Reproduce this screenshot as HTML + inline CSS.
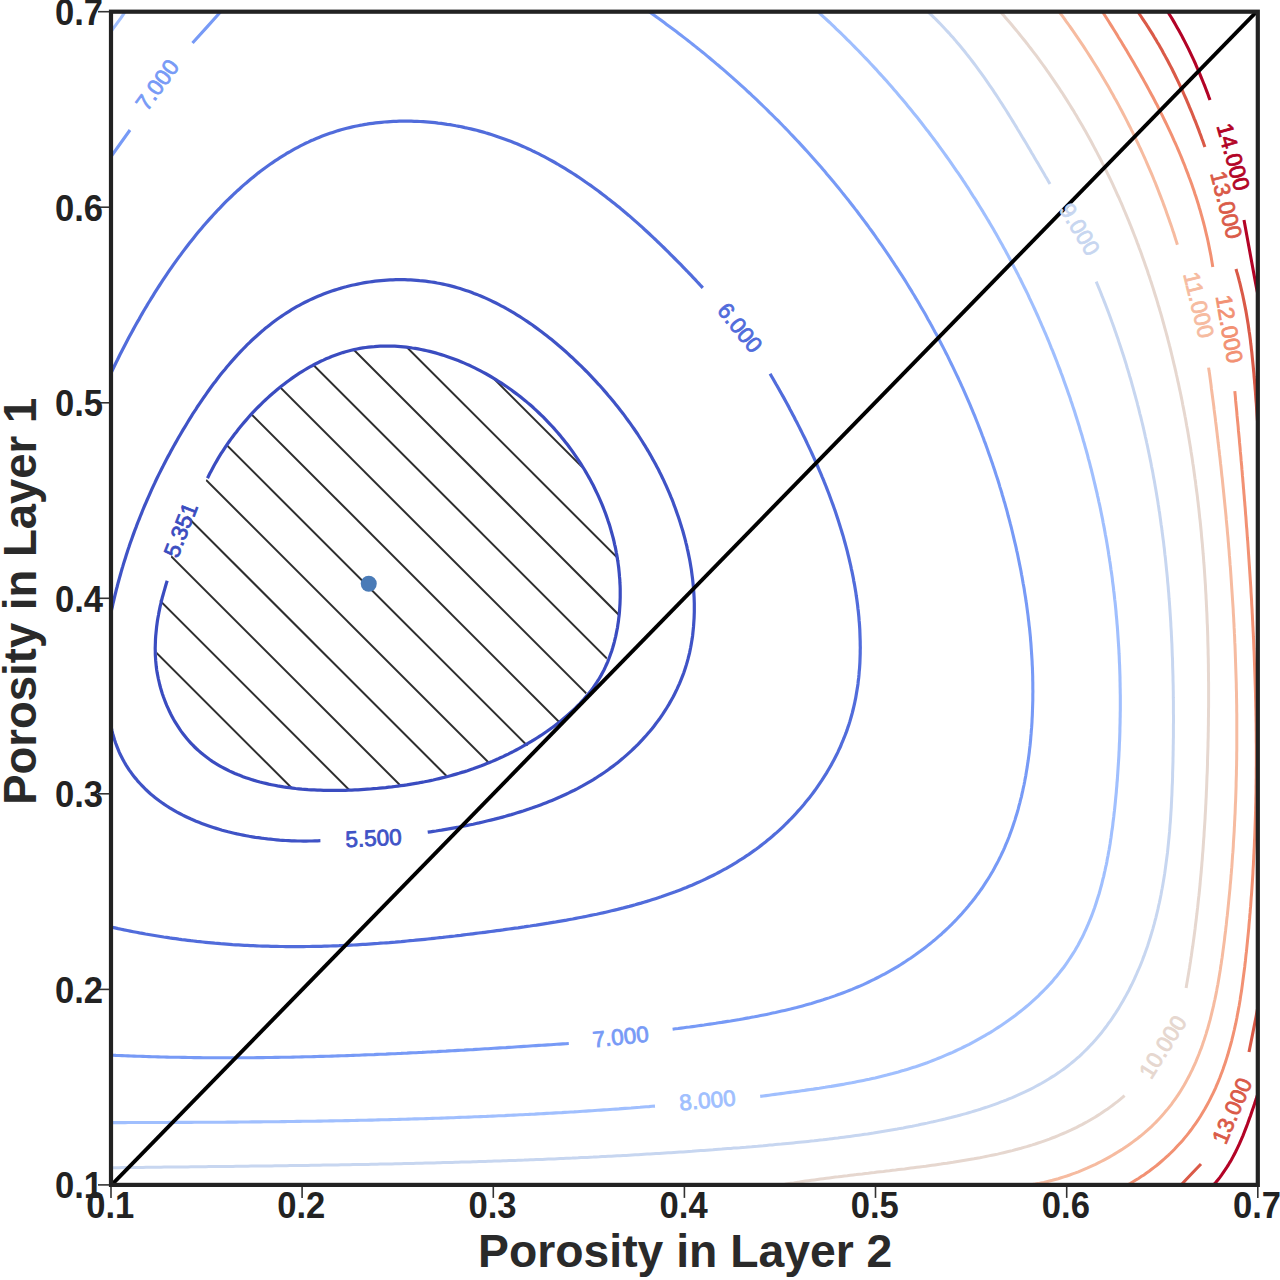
<!DOCTYPE html><html><head><meta charset="utf-8"><title>Porosity contour</title>
<style>html,body{margin:0;padding:0;background:#fff;}svg{display:block;}text{font-family:"Liberation Sans",sans-serif;}</style></head><body>
<svg width="1280" height="1280" viewBox="0 0 1280 1280">
<rect width="1280" height="1280" fill="#fff"/>
<defs><clipPath id="ax"><rect x="111.0" y="11.7" width="1146.8" height="1173.2"/></clipPath>
<clipPath id="hc"><path d="M206.8,479.1L208.3,476.4L209.9,473.7L211.4,471.1L213.0,468.4L214.6,465.8L216.2,463.2L217.8,460.6L219.4,458.0L221.0,455.4L222.7,452.8L224.4,450.3L226.1,447.7L227.8,445.2L229.5,442.7L231.2,440.2L233.0,437.7L234.8,435.3L236.6,432.9L238.4,430.4L240.2,428.0L242.1,425.7L244.0,423.3L245.9,421.0L247.8,418.7L249.7,416.4L251.7,414.1L253.7,411.9L255.7,409.7L257.7,407.5L259.8,405.3L261.9,403.2L264.0,401.1L266.1,399.0L268.3,396.9L270.5,394.9L272.7,392.9L274.9,391.0L277.2,389.0L279.5,387.1L281.8,385.3L284.1,383.4L286.5,381.6L288.9,379.9L291.3,378.1L293.8,376.4L296.3,374.8L298.8,373.2L301.3,371.6L303.9,370.0L306.5,368.5L309.1,367.1L311.7,365.7L314.4,364.3L317.1,363.0L319.8,361.7L322.5,360.4L325.2,359.2L328.0,358.1L330.8,357.0L333.6,356.0L336.4,355.0L339.2,354.1L342.1,353.2L344.9,352.4L347.8,351.6L350.7,350.9L353.6,350.2L356.5,349.6L359.4,349.1L362.3,348.6L365.3,348.2L368.2,347.8L371.2,347.5L374.1,347.2L377.1,347.0L380.1,346.8L383.0,346.7L386.0,346.7L389.0,346.6L392.0,346.7L395.0,346.8L397.9,346.9L400.9,347.1L403.9,347.4L406.9,347.7L409.9,348.0L412.8,348.4L415.8,348.8L418.8,349.3L421.7,349.8L424.7,350.4L427.6,351.0L430.6,351.6L433.5,352.3L436.4,353.1L439.4,353.9L442.3,354.7L445.1,355.6L448.0,356.5L450.9,357.4L453.7,358.4L456.6,359.5L459.4,360.5L462.2,361.6L465.0,362.8L467.8,364.0L470.5,365.2L473.3,366.5L476.0,367.8L478.7,369.1L481.3,370.4L484.0,371.8L486.6,373.3L489.2,374.7L491.8,376.2L494.4,377.8L496.9,379.3L499.4,380.9L501.9,382.6L504.4,384.2L506.8,385.9L509.2,387.6L511.6,389.4L514.0,391.2L516.4,393.0L518.7,394.8L521.0,396.7L523.3,398.6L525.5,400.5L527.8,402.5L530.0,404.5L532.2,406.5L534.3,408.5L536.5,410.6L538.6,412.7L540.7,414.8L542.8,416.9L544.8,419.1L546.9,421.3L548.9,423.5L550.9,425.7L552.8,428.0L554.8,430.3L556.7,432.6L558.6,434.9L560.5,437.3L562.4,439.7L564.2,442.1L566.0,444.5L567.8,447.0L569.6,449.4L571.4,451.9L573.1,454.4L574.8,456.9L576.5,459.5L578.2,462.1L579.8,464.6L581.5,467.2L583.1,469.9L584.7,472.5L586.2,475.2L587.8,477.8L589.3,480.5L590.8,483.2L592.3,485.9L593.7,488.7L595.1,491.4L596.5,494.2L597.9,497.0L599.2,499.8L600.5,502.6L601.8,505.4L603.1,508.2L604.3,511.0L605.5,513.9L606.6,516.7L607.7,519.6L608.8,522.5L609.8,525.4L610.8,528.2L611.8,531.1L612.7,534.0L613.6,537.0L614.5,539.9L615.3,542.8L616.0,545.7L616.7,548.6L617.4,551.6L618.1,554.5L618.7,557.5L619.2,560.4L619.7,563.3L620.1,566.3L620.6,569.2L620.9,572.2L621.2,575.1L621.5,578.1L621.7,581.0L621.8,584.0L621.9,586.9L622.0,589.8L622.0,592.8L621.9,595.7L621.8,598.6L621.6,601.6L621.4,604.5L621.1,607.4L620.8,610.3L620.4,613.2L619.9,616.1L619.4,619.0L618.9,621.8L618.2,624.7L617.6,627.6L616.9,630.4L616.1,633.2L615.3,636.0L614.4,638.9L613.5,641.6L612.5,644.4L611.5,647.2L610.5,649.9L609.4,652.7L608.2,655.4L607.0,658.1L605.8,660.8L604.5,663.5L603.1,666.1L601.8,668.7L600.3,671.4L598.9,673.9L597.4,676.5L595.8,679.1L594.2,681.6L592.6,684.1L590.9,686.6L589.2,689.0L587.5,691.5L585.7,693.9L583.9,696.2L582.0,698.6L580.1,700.9L578.2,703.2L576.2,705.5L574.2,707.7L572.2,709.9L570.1,712.1L568.0,714.3L565.8,716.4L563.7,718.5L561.5,720.5L559.2,722.6L557.0,724.6L554.7,726.5L552.4,728.4L550.0,730.3L547.7,732.2L545.2,734.0L542.8,735.8L540.4,737.5L537.9,739.2L535.4,740.9L532.8,742.5L530.3,744.1L527.7,745.6L525.1,747.1L522.5,748.6L519.8,750.0L517.2,751.3L514.5,752.7L511.8,754.0L509.0,755.3L506.3,756.5L503.5,757.7L500.8,758.9L498.0,760.0L495.2,761.1L492.3,762.2L489.5,763.2L486.7,764.2L483.8,765.2L480.9,766.2L478.1,767.1L475.2,768.0L472.3,768.9L469.4,769.8L466.5,770.6L463.6,771.4L460.6,772.2L457.7,773.0L454.8,773.8L451.9,774.5L448.9,775.3L446.0,776.0L443.1,776.7L440.1,777.4L437.2,778.0L434.3,778.7L431.3,779.3L428.4,780.0L425.4,780.6L422.5,781.2L419.6,781.8L416.6,782.3L413.7,782.9L410.7,783.4L407.8,783.9L404.8,784.4L401.9,784.9L398.9,785.4L395.9,785.9L393.0,786.3L390.0,786.7L387.0,787.1L384.1,787.5L381.1,787.8L378.1,788.2L375.1,788.5L372.1,788.8L369.1,789.1L366.1,789.4L363.1,789.6L360.1,789.8L357.1,790.0L354.0,790.2L351.0,790.4L348.0,790.5L344.9,790.6L341.9,790.7L338.8,790.8L335.7,790.9L332.7,790.9L329.6,790.9L326.5,790.9L323.4,790.8L320.3,790.8L317.2,790.7L314.1,790.5L311.0,790.4L308.0,790.2L304.9,790.0L301.8,789.8L298.7,789.5L295.6,789.2L292.6,788.8L289.5,788.5L286.4,788.1L283.4,787.6L280.4,787.1L277.3,786.6L274.3,786.0L271.3,785.4L268.4,784.8L265.4,784.1L262.5,783.4L259.5,782.6L256.6,781.8L253.7,780.9L250.9,780.0L248.0,779.1L245.2,778.1L242.4,777.0L239.7,775.9L236.9,774.8L234.2,773.6L231.5,772.3L228.9,771.0L226.3,769.7L223.7,768.3L221.1,766.8L218.6,765.3L216.1,763.7L213.7,762.1L211.3,760.4L208.9,758.7L206.6,756.9L204.3,755.1L202.1,753.2L199.9,751.3L197.7,749.3L195.6,747.3L193.6,745.3L191.6,743.2L189.6,741.0L187.7,738.8L185.9,736.6L184.1,734.3L182.3,732.0L180.6,729.6L179.0,727.2L177.4,724.8L175.9,722.3L174.5,719.7L173.1,717.2L171.8,714.6L170.5,711.9L169.3,709.3L168.2,706.6L167.1,703.8L166.1,701.1L165.1,698.3L164.2,695.5L163.3,692.6L162.5,689.8L161.7,686.9L161.0,684.0L160.4,681.1L159.8,678.1L159.2,675.2L158.7,672.2L158.3,669.2L157.9,666.3L157.5,663.3L157.2,660.3L157.0,657.3L156.7,654.3L156.6,651.3L156.4,648.3L156.4,645.3L156.3,642.3L156.3,639.3L156.4,636.3L156.4,633.3L156.5,630.3L156.7,627.3L156.9,624.3L157.1,621.3L157.4,618.4L157.7,615.4L158.1,612.4L158.5,609.4L158.9,606.5L159.3,603.5L159.8,600.6L160.4,597.6L160.9,594.7L161.5,591.8L162.1,588.8L162.8,585.9L163.5,583.0L164.2,580.1L165.0,577.1L165.7,574.2L166.5,571.3L167.4,568.4L168.3,565.5L169.2,562.7L170.1,559.8L171.0,556.9L172.0,554.0L173.0,551.2L174.1,548.3L175.1,545.5L176.2,542.6L177.3,539.8L178.4,536.9L179.6,534.1L180.8,531.3L182.0,528.5L183.2,525.7L184.4,522.9L185.7,520.1L187.0,517.3L188.3,514.5L189.6,511.7L191.0,509.0L192.3,506.2L193.7,503.5L195.1,500.7L196.5,498.0L197.9,495.3L199.4,492.5L200.8,489.8L202.3,487.1L203.8,484.4L205.3,481.7L206.8,479.1Z"/></clipPath></defs>
<g clip-path="url(#ax)">
<g clip-path="url(#hc)" stroke="#2e2e2e" stroke-width="2.0">
<line x1="100.0" y1="-126.4" x2="720.0" y2="493.6"/>
<line x1="100.0" y1="-70.8" x2="720.0" y2="549.2"/>
<line x1="100.0" y1="-15.2" x2="720.0" y2="604.8"/>
<line x1="100.0" y1="40.4" x2="720.0" y2="660.4"/>
<line x1="100.0" y1="96.0" x2="720.0" y2="716.0"/>
<line x1="100.0" y1="151.6" x2="720.0" y2="771.6"/>
<line x1="100.0" y1="207.2" x2="720.0" y2="827.2"/>
<line x1="100.0" y1="262.8" x2="720.0" y2="882.8"/>
<line x1="100.0" y1="318.4" x2="720.0" y2="938.4"/>
<line x1="100.0" y1="373.9" x2="720.0" y2="993.9"/>
<line x1="100.0" y1="429.5" x2="720.0" y2="1049.5"/>
<line x1="100.0" y1="485.1" x2="720.0" y2="1105.1"/>
<line x1="100.0" y1="540.7" x2="720.0" y2="1160.7"/>
<line x1="100.0" y1="596.3" x2="720.0" y2="1216.3"/>
<line x1="100.0" y1="651.9" x2="720.0" y2="1271.9"/>
<line x1="100.0" y1="707.5" x2="720.0" y2="1327.5"/>
</g>
<path d="M207.5,478.2L208.7,475.8L209.9,473.3L211.2,470.9L212.5,468.5L213.8,466.0L215.2,463.5L216.6,461.1L218.0,458.6L219.5,456.2L221.0,453.7L222.6,451.3L224.2,448.8L225.8,446.4L227.5,443.9L229.2,441.5L230.9,439.1L232.7,436.7L234.5,434.3L236.4,431.9L238.2,429.5L240.2,427.1L242.1,424.7L244.1,422.4L246.1,420.1L248.1,417.7L250.2,415.4L252.2,413.2L254.4,410.9L256.5,408.7L258.7,406.5L260.9,404.3L263.1,402.1L265.4,400.0L267.7,397.9L270.0,395.8L272.3,393.7L274.7,391.7L277.0,389.7L279.4,387.7L281.9,385.8L284.3,383.9L286.8,382.0L289.3,380.2L291.8,378.4L294.3,376.6L296.9,374.9L299.4,373.2L302.0,371.6L304.6,370.0L307.3,368.4L309.9,366.9L312.6,365.5L315.3,364.0L317.9,362.7L320.7,361.3L323.4,360.1L326.1,358.8L328.9,357.7L331.6,356.5L334.4,355.5L337.2,354.5L340.0,353.5L342.8,352.6L345.6,351.8L348.5,351.0L351.3,350.3L354.2,349.6L357.0,349.0L359.9,348.4L362.8,347.9L365.7,347.5L368.5,347.1L371.4,346.8L374.3,346.6L377.2,346.3L380.2,346.2L383.1,346.1L386.0,346.1L388.9,346.1L391.8,346.1L394.7,346.2L397.7,346.4L400.6,346.6L403.5,346.9L406.4,347.2L409.4,347.5L412.3,348.0L415.2,348.4L418.1,348.9L421.0,349.5L423.9,350.1L426.8,350.7L429.7,351.4L432.6,352.1L435.5,352.9L438.3,353.7L441.2,354.6L444.1,355.5L446.9,356.4L449.7,357.4L452.6,358.4L455.4,359.5L458.2,360.6L461.0,361.7L463.8,362.9L466.5,364.1L469.3,365.3L472.0,366.6L474.7,367.9L477.5,369.3L480.1,370.7L482.8,372.1L485.5,373.5L488.1,375.0L490.7,376.5L493.4,378.1L495.9,379.7L498.5,381.3L501.1,382.9L503.6,384.6L506.1,386.3L508.6,388.0L511.1,389.8L513.5,391.6L515.9,393.4L518.4,395.2L520.7,397.1L523.1,399.0L525.5,400.9L527.8,402.9L530.1,404.8L532.4,406.8L534.6,408.9L536.8,410.9L539.0,413.0L541.2,415.1L543.4,417.2L545.5,419.4L547.6,421.6L549.7,423.8L551.8,426.0L553.8,428.2L555.8,430.5L557.8,432.8L559.8,435.1L561.7,437.4L563.6,439.8L565.5,442.2L567.4,444.6L569.2,447.0L571.0,449.4L572.8,451.9L574.5,454.3L576.2,456.8L577.9,459.3L579.6,461.9L581.2,464.4L582.8,467.0L584.4,469.5L585.9,472.1L587.4,474.7L588.9,477.4L590.4,480.0L591.8,482.7L593.2,485.3L594.5,488.0L595.8,490.7L597.1,493.4L598.4,496.2L599.6,498.9L600.8,501.7L602.0,504.4L603.1,507.2L604.2,510.0L605.3,512.8L606.3,515.6L607.3,518.5L608.2,521.3L609.2,524.1L610.1,527.0L610.9,529.9L611.7,532.7L612.5,535.6L613.3,538.5L614.0,541.4L614.6,544.3L615.3,547.2L615.9,550.2L616.4,553.1L617.0,556.0L617.4,559.0L617.9,561.9L618.3,564.9L618.7,567.8L619.0,570.8L619.3,573.8L619.5,576.7L619.8,579.7L619.9,582.7L620.1,585.7L620.2,588.7L620.2,591.7L620.2,594.6L620.2,597.6L620.1,600.6L620.0,603.6L619.8,606.6L619.6,609.6L619.4,612.6L619.1,615.6L618.7,618.6L618.4,621.6L617.9,624.5L617.5,627.5L616.9,630.4L616.3,633.4L615.7,636.3L615.0,639.2L614.3,642.1L613.5,645.0L612.7,647.8L611.8,650.7L610.8,653.5L609.8,656.3L608.8,659.0L607.7,661.8L606.5,664.5L605.3,667.2L604.0,669.9L602.6,672.5L601.2,675.1L599.7,677.7L598.2,680.2L596.6,682.7L594.9,685.2L593.2,687.7L591.4,690.1L589.6,692.4L587.7,694.8L585.7,697.1L583.8,699.3L581.7,701.6L579.7,703.8L577.5,706.0L575.4,708.1L573.2,710.2L570.9,712.3L568.7,714.3L566.4,716.3L564.0,718.3L561.7,720.2L559.3,722.2L556.9,724.0L554.4,725.9L552.0,727.7L549.5,729.5L547.0,731.3L544.5,733.0L542.0,734.7L539.4,736.4L536.9,738.0L534.3,739.6L531.8,741.2L529.2,742.7L526.6,744.2L524.0,745.7L521.4,747.2L518.8,748.6L516.2,750.0L513.6,751.4L510.9,752.7L508.3,754.1L505.6,755.3L503.0,756.6L500.3,757.8L497.6,759.1L494.9,760.2L492.2,761.4L489.5,762.5L486.8,763.6L484.0,764.7L481.3,765.8L478.6,766.8L475.8,767.8L473.0,768.8L470.2,769.7L467.5,770.7L464.7,771.6L461.8,772.4L459.0,773.3L456.2,774.1L453.4,774.9L450.5,775.7L447.7,776.5L444.8,777.2L441.9,777.9L439.1,778.6L436.2,779.3L433.3,780.0L430.4,780.6L427.5,781.2L424.5,781.8L421.6,782.3L418.7,782.9L415.7,783.4L412.7,783.9L409.8,784.4L406.8,784.9L403.8,785.3L400.8,785.7L397.8,786.1L394.8,786.5L391.8,786.9L388.8,787.2L385.7,787.6L382.7,787.9L379.6,788.2L376.6,788.5L373.5,788.7L370.4,789.0L367.3,789.2L364.2,789.4L361.1,789.6L358.0,789.8L354.9,789.9L351.8,790.1L348.6,790.2L345.5,790.3L342.4,790.3L339.2,790.4L336.1,790.4L333.0,790.4L329.8,790.4L326.7,790.4L323.6,790.3L320.4,790.2L317.3,790.1L314.2,789.9L311.1,789.8L308.0,789.6L304.9,789.3L301.8,789.1L298.7,788.8L295.6,788.5L292.6,788.1L289.5,787.7L286.5,787.3L283.5,786.9L280.5,786.4L277.5,785.9L274.5,785.3L271.5,784.7L268.6,784.1L265.7,783.4L262.8,782.7L259.9,782.0L257.0,781.2L254.2,780.4L251.3,779.5L248.5,778.6L245.8,777.7L243.0,776.7L240.3,775.6L237.6,774.6L234.9,773.5L232.3,772.3L229.7,771.1L227.1,769.8L224.6,768.5L222.0,767.2L219.6,765.8L217.1,764.3L214.7,762.8L212.3,761.3L210.0,759.7L207.7,758.0L205.4,756.3L203.2,754.6L201.0,752.8L198.8,750.9L196.7,749.0L194.6,747.0L192.6,745.0L190.6,742.9L188.7,740.8L186.8,738.6L185.0,736.3L183.2,734.0L181.4,731.6L179.7,729.2L178.1,726.7L176.5,724.2L174.9,721.7L173.4,719.1L172.0,716.4L170.6,713.7L169.3,711.0L168.0,708.2L166.7,705.4L165.6,702.6L164.5,699.7L163.4,696.8L162.4,693.9L161.5,691.0L160.6,688.0L159.8,685.0L159.1,682.0L158.4,679.0L157.8,676.0L157.2,672.9L156.7,669.9L156.3,666.8L156.0,663.8L155.7,660.7L155.5,657.6L155.3,654.5L155.3,651.5L155.2,648.4L155.3,645.3L155.4,642.3L155.5,639.2L155.7,636.1L156.0,633.1L156.3,630.1L156.6,627.0L157.0,624.0L157.4,621.0L157.9,618.0L158.5,615.0L159.0,612.1L159.6,609.1L160.2,606.2L160.9,603.3L161.6,600.4L162.3,597.5L163.1,594.7L163.9,591.9L164.7,589.1L165.5,586.3L166.3,583.5L167.2,580.8" fill="none" stroke="#3a4cc0" stroke-width="3.2" stroke-linecap="butt"/>
<path d="M427.7,832.2L430.4,831.8L433.2,831.4L436.0,831.0L438.8,830.5L441.6,830.1L444.4,829.6L447.3,829.1L450.1,828.6L453.0,828.1L455.8,827.6L458.7,827.1L461.6,826.5L464.5,825.9L467.4,825.4L470.3,824.8L473.2,824.2L476.1,823.5L479.1,822.9L482.0,822.2L484.9,821.5L487.8,820.8L490.8,820.1L493.7,819.4L496.7,818.6L499.6,817.9L502.6,817.1L505.5,816.3L508.4,815.4L511.4,814.6L514.3,813.7L517.2,812.8L520.2,811.9L523.1,811.0L526.0,810.0L528.9,809.1L531.8,808.1L534.7,807.0L537.6,806.0L540.5,804.9L543.4,803.8L546.3,802.7L549.1,801.6L552.0,800.4L554.8,799.2L557.6,798.0L560.4,796.8L563.2,795.5L566.0,794.2L568.8,792.9L571.5,791.5L574.3,790.2L577.0,788.8L579.7,787.3L582.4,785.9L585.1,784.4L587.7,782.9L590.4,781.3L593.0,779.8L595.6,778.2L598.1,776.5L600.7,774.9L603.2,773.2L605.7,771.5L608.2,769.7L610.6,767.9L613.1,766.1L615.5,764.3L617.9,762.4L620.2,760.5L622.5,758.6L624.8,756.6L627.1,754.6L629.3,752.6L631.5,750.6L633.7,748.5L635.9,746.4L638.0,744.3L640.1,742.1L642.2,739.9L644.2,737.7L646.2,735.5L648.1,733.3L650.1,731.0L652.0,728.7L653.8,726.4L655.6,724.0L657.4,721.6L659.2,719.3L660.9,716.8L662.6,714.4L664.2,711.9L665.8,709.5L667.3,707.0L668.9,704.4L670.3,701.9L671.8,699.3L673.2,696.8L674.5,694.2L675.8,691.5L677.1,688.9L678.3,686.2L679.5,683.6L680.6,680.9L681.7,678.2L682.8,675.4L683.8,672.7L684.7,669.9L685.6,667.2L686.5,664.4L687.3,661.6L688.1,658.7L688.8,655.9L689.5,653.1L690.1,650.2L690.7,647.3L691.2,644.4L691.7,641.5L692.2,638.6L692.6,635.7L692.9,632.8L693.2,629.9L693.5,626.9L693.7,624.0L693.9,621.0L694.1,618.0L694.2,615.1L694.3,612.1L694.3,609.1L694.3,606.1L694.3,603.1L694.2,600.1L694.1,597.1L693.9,594.1L693.7,591.1L693.5,588.1L693.2,585.1L692.9,582.1L692.6,579.1L692.2,576.1L691.8,573.1L691.4,570.0L690.9,567.0L690.4,564.0L689.9,561.0L689.3,558.0L688.7,555.1L688.1,552.1L687.4,549.1L686.8,546.1L686.0,543.1L685.3,540.2L684.5,537.2L683.7,534.3L682.9,531.3L682.0,528.4L681.1,525.5L680.2,522.6L679.3,519.7L678.3,516.8L677.3,513.9L676.3,511.1L675.3,508.2L674.2,505.4L673.2,502.5L672.1,499.7L670.9,496.9L669.8,494.1L668.6,491.4L667.4,488.6L666.2,485.9L664.9,483.1L663.7,480.4L662.4,477.7L661.1,475.0L659.7,472.3L658.4,469.6L657.0,467.0L655.6,464.3L654.2,461.7L652.7,459.1L651.3,456.5L649.8,453.9L648.3,451.3L646.7,448.7L645.2,446.1L643.6,443.6L642.0,441.0L640.4,438.5L638.8,436.0L637.2,433.5L635.5,431.0L633.8,428.5L632.1,426.1L630.4,423.6L628.6,421.2L626.8,418.8L625.1,416.4L623.3,413.9L621.4,411.6L619.6,409.2L617.7,406.8L615.8,404.5L613.9,402.1L612.0,399.8L610.1,397.5L608.1,395.2L606.2,392.9L604.2,390.6L602.2,388.3L600.2,386.0L598.1,383.8L596.1,381.6L594.0,379.3L591.9,377.1L589.8,374.9L587.7,372.7L585.5,370.5L583.4,368.4L581.2,366.2L579.0,364.1L576.8,362.0L574.6,359.8L572.4,357.7L570.1,355.7L567.9,353.6L565.6,351.5L563.3,349.5L561.0,347.5L558.6,345.5L556.3,343.5L553.9,341.5L551.6,339.6L549.2,337.7L546.8,335.8L544.4,333.9L541.9,332.0L539.5,330.2L537.0,328.4L534.6,326.6L532.1,324.8L529.6,323.1L527.1,321.4L524.6,319.7L522.0,318.0L519.5,316.4L516.9,314.8L514.3,313.2L511.7,311.7L509.1,310.1L506.5,308.7L503.9,307.2L501.2,305.8L498.6,304.4L495.9,303.0L493.2,301.7L490.5,300.4L487.8,299.1L485.1,297.9L482.4,296.7L479.6,295.6L476.9,294.4L474.1,293.4L471.3,292.3L468.6,291.3L465.8,290.4L462.9,289.4L460.1,288.5L457.3,287.7L454.4,286.9L451.6,286.1L448.7,285.4L445.9,284.7L443.0,284.1L440.1,283.5L437.2,283.0L434.3,282.4L431.3,282.0L428.4,281.6L425.5,281.2L422.5,280.8L419.6,280.6L416.6,280.3L413.7,280.1L410.7,279.9L407.8,279.8L404.8,279.7L401.8,279.7L398.9,279.7L395.9,279.7L392.9,279.8L390.0,279.9L387.0,280.1L384.0,280.3L381.1,280.6L378.1,280.9L375.2,281.2L372.2,281.6L369.3,282.0L366.4,282.4L363.4,282.9L360.5,283.5L357.6,284.1L354.7,284.7L351.8,285.3L348.9,286.0L346.0,286.8L343.2,287.5L340.3,288.4L337.5,289.2L334.6,290.1L331.8,291.0L329.0,292.0L326.2,293.0L323.5,294.1L320.7,295.2L318.0,296.3L315.2,297.5L312.5,298.7L309.9,299.9L307.2,301.2L304.5,302.5L301.9,303.9L299.3,305.3L296.7,306.7L294.2,308.2L291.6,309.7L289.1,311.3L286.6,312.9L284.1,314.5L281.7,316.1L279.3,317.8L276.8,319.5L274.4,321.3L272.1,323.1L269.7,324.9L267.4,326.8L265.1,328.6L262.8,330.6L260.5,332.5L258.3,334.5L256.1,336.5L253.8,338.5L251.6,340.5L249.5,342.6L247.3,344.7L245.2,346.8L243.1,349.0L241.0,351.2L238.9,353.4L236.8,355.6L234.8,357.9L232.8,360.1L230.8,362.4L228.8,364.7L226.8,367.0L224.9,369.4L222.9,371.8L221.0,374.1L219.1,376.5L217.2,379.0L215.4,381.4L213.5,383.8L211.7,386.3L209.9,388.8L208.1,391.3L206.3,393.8L204.6,396.3L202.8,398.8L201.1,401.4L199.4,403.9L197.6,406.5L196.0,409.1L194.3,411.6L192.6,414.2L191.0,416.8L189.4,419.4L187.8,422.0L186.2,424.7L184.6,427.3L183.0,429.9L181.5,432.5L179.9,435.2L178.4,437.8L176.9,440.5L175.4,443.1L173.9,445.7L172.4,448.4L171.0,451.1L169.6,453.7L168.1,456.4L166.7,459.0L165.3,461.7L163.9,464.4L162.6,467.1L161.2,469.8L159.9,472.4L158.5,475.1L157.2,477.8L155.9,480.5L154.7,483.2L153.4,485.9L152.1,488.7L150.9,491.4L149.7,494.1L148.5,496.8L147.3,499.5L146.1,502.3L144.9,505.0L143.7,507.8L142.6,510.5L141.5,513.3L140.4,516.0L139.3,518.8L138.2,521.5L137.1,524.3L136.1,527.1L135.0,529.9L134.0,532.6L133.0,535.4L132.0,538.2L131.0,541.0L130.0,543.8L129.1,546.6L128.1,549.4L127.2,552.3L126.3,555.1L125.4,557.9L124.5,560.8L123.6,563.6L122.8,566.4L121.9,569.3L121.1,572.1L120.3,575.0L119.5,577.9L118.7,580.7L117.9,583.6L117.2,586.5L116.4,589.4L115.7,592.3L115.0,595.2L114.3,598.1L113.6,601.0L112.9,603.9L112.3,606.8L111.6,609.7L111.0,612.6L110.4,615.6L109.8,618.5L109.2,621.5L108.7,624.4" fill="none" stroke="#3f53c6" stroke-width="3.2" stroke-linecap="butt"/>
<path d="M110.1,721.1L110.7,724.4L111.3,727.6L112.0,730.8L112.8,733.9L113.7,737.0L114.6,740.0L115.6,743.0L116.7,745.9L117.8,748.7L119.0,751.6L120.2,754.3L121.6,757.0L123.0,759.7L124.4,762.3L125.9,764.8L127.5,767.3L129.1,769.8L130.8,772.2L132.5,774.6L134.3,776.9L136.2,779.1L138.0,781.4L140.0,783.5L142.0,785.6L144.0,787.7L146.1,789.8L148.2,791.7L150.4,793.7L152.6,795.6L154.9,797.4L157.2,799.2L159.6,801.0L162.0,802.7L164.4,804.4L166.8,806.0L169.3,807.6L171.9,809.1L174.4,810.6L177.0,812.1L179.7,813.5L182.3,814.9L185.0,816.2L187.7,817.5L190.5,818.8L193.3,820.0L196.0,821.2L198.9,822.3L201.7,823.4L204.6,824.5L207.4,825.5L210.3,826.5L213.3,827.5L216.2,828.4L219.1,829.3L222.1,830.2L225.1,831.0L228.1,831.8L231.1,832.5L234.1,833.2L237.1,833.9L240.1,834.5L243.1,835.1L246.2,835.7L249.2,836.3L252.3,836.8L255.3,837.3L258.4,837.7L261.4,838.2L264.4,838.5L267.5,838.9L270.5,839.2L273.5,839.5L276.6,839.8L279.6,840.1L282.6,840.3L285.6,840.5L288.6,840.6L291.6,840.8L294.5,840.9L297.5,841.0L300.4,841.0L303.3,841.1L306.2,841.1L309.1,841.0L312.0,841.0L314.8,840.9L317.6,840.8L320.4,840.7" fill="none" stroke="#3f53c6" stroke-width="3.2" stroke-linecap="butt"/>
<path d="M111.5,372.2L112.6,369.8L113.8,367.3L115.0,364.8L116.2,362.3L117.5,359.8L118.7,357.3L119.9,354.8L121.2,352.3L122.5,349.8L123.8,347.3L125.1,344.7L126.4,342.2L127.8,339.6L129.1,337.1L130.5,334.5L131.9,331.9L133.3,329.4L134.7,326.8L136.1,324.2L137.6,321.6L139.1,319.1L140.5,316.5L142.0,313.9L143.5,311.3L145.0,308.7L146.6,306.1L148.1,303.5L149.7,301.0L151.3,298.4L152.9,295.8L154.5,293.2L156.1,290.6L157.7,288.1L159.4,285.5L161.1,282.9L162.7,280.4L164.4,277.8L166.1,275.3L167.9,272.7L169.6,270.2L171.4,267.6L173.1,265.1L174.9,262.6L176.7,260.1L178.5,257.6L180.4,255.1L182.2,252.6L184.1,250.1L185.9,247.7L187.8,245.2L189.7,242.8L191.6,240.4L193.6,237.9L195.5,235.5L197.5,233.1L199.4,230.8L201.4,228.4L203.4,226.0L205.4,223.7L207.5,221.4L209.5,219.1L211.6,216.8L213.7,214.5L215.7,212.3L217.8,210.0L220.0,207.8L222.1,205.6L224.2,203.4L226.4,201.2L228.6,199.1L230.8,197.0L233.0,194.8L235.2,192.8L237.4,190.7L239.7,188.7L241.9,186.6L244.2,184.6L246.5,182.7L248.8,180.7L251.1,178.8L253.4,176.9L255.8,175.0L258.1,173.1L260.5,171.3L262.9,169.5L265.3,167.7L267.7,166.0L270.1,164.3L272.6,162.6L275.0,160.9L277.5,159.3L280.0,157.7L282.5,156.1L285.0,154.6L287.5,153.0L290.1,151.6L292.6,150.1L295.2,148.7L297.8,147.3L300.4,145.9L303.0,144.6L305.6,143.3L308.3,142.1L310.9,140.8L313.6,139.7L316.3,138.5L319.0,137.4L321.7,136.3L324.4,135.3L327.2,134.3L329.9,133.3L332.7,132.4L335.5,131.5L338.3,130.6L341.1,129.8L343.9,129.0L346.7,128.3L349.6,127.6L352.4,126.9L355.3,126.3L358.1,125.7L361.0,125.2L363.9,124.6L366.8,124.2L369.7,123.7L372.7,123.3L375.6,122.9L378.5,122.6L381.5,122.3L384.4,122.0L387.4,121.8L390.3,121.6L393.3,121.4L396.3,121.3L399.2,121.2L402.2,121.2L405.2,121.1L408.2,121.1L411.2,121.2L414.2,121.3L417.1,121.4L420.1,121.5L423.1,121.7L426.1,121.9L429.1,122.1L432.1,122.4L435.1,122.7L438.1,123.1L441.1,123.4L444.1,123.8L447.1,124.3L450.0,124.7L453.0,125.2L456.0,125.8L459.0,126.3L461.9,126.9L464.9,127.6L467.9,128.2L470.8,128.9L473.8,129.6L476.7,130.3L479.6,131.1L482.5,131.9L485.5,132.8L488.4,133.6L491.3,134.5L494.2,135.4L497.0,136.4L499.9,137.4L502.8,138.4L505.6,139.4L508.4,140.5L511.3,141.6L514.1,142.7L516.9,143.8L519.7,145.0L522.4,146.2L525.2,147.4L528.0,148.7L530.7,149.9L533.4,151.3L536.2,152.6L538.9,153.9L541.6,155.3L544.2,156.7L546.9,158.1L549.6,159.6L552.2,161.0L554.9,162.5L557.5,164.0L560.1,165.6L562.7,167.1L565.3,168.7L567.9,170.3L570.4,171.9L573.0,173.5L575.6,175.2L578.1,176.8L580.6,178.5L583.1,180.2L585.6,182.0L588.1,183.7L590.6,185.4L593.1,187.2L595.5,189.0L598.0,190.8L600.4,192.6L602.8,194.4L605.2,196.3L607.6,198.2L610.0,200.0L612.4,201.9L614.8,203.8L617.1,205.7L619.5,207.6L621.8,209.6L624.1,211.5L626.5,213.5L628.8,215.4L631.1,217.4L633.3,219.4L635.6,221.4L637.9,223.4L640.1,225.4L642.4,227.4L644.6,229.5L646.8,231.5L649.0,233.5L651.2,235.6L653.4,237.7L655.6,239.7L657.7,241.8L659.9,243.8L662.0,245.9L664.2,248.0L666.3,250.1L668.4,252.2L670.5,254.3L672.6,256.4L674.7,258.5L676.8,260.6L678.8,262.6L680.9,264.7L682.9,266.8L684.9,268.9L687.0,271.0L689.0,273.1L691.0,275.2L693.0,277.3L695.0,279.4L696.9,281.5L698.9,283.6L700.8,285.7L702.8,287.8" fill="none" stroke="#516cdb" stroke-width="3.2" stroke-linecap="butt"/>
<path d="M770.1,373.8L771.5,376.2L773.0,378.7L774.4,381.2L775.8,383.7L777.3,386.2L778.7,388.7L780.1,391.3L781.5,393.8L783.0,396.4L784.4,398.9L785.8,401.5L787.2,404.1L788.6,406.6L789.9,409.2L791.3,411.8L792.7,414.4L794.1,417.0L795.4,419.7L796.8,422.3L798.1,424.9L799.5,427.6L800.8,430.3L802.1,432.9L803.4,435.6L804.8,438.3L806.1,441.0L807.3,443.7L808.6,446.4L809.9,449.1L811.2,451.8L812.4,454.5L813.7,457.3L814.9,460.0L816.1,462.8L817.3,465.5L818.5,468.3L819.7,471.1L820.9,473.8L822.0,476.6L823.2,479.4L824.3,482.2L825.5,485.0L826.6,487.8L827.7,490.7L828.8,493.5L829.8,496.3L830.9,499.2L831.9,502.0L833.0,504.9L834.0,507.7L835.0,510.6L836.0,513.5L836.9,516.3L837.9,519.2L838.8,522.1L839.7,525.0L840.6,527.9L841.5,530.8L842.4,533.7L843.3,536.6L844.1,539.6L844.9,542.5L845.7,545.4L846.5,548.4L847.3,551.3L848.0,554.3L848.7,557.2L849.4,560.2L850.1,563.2L850.8,566.1L851.4,569.1L852.1,572.1L852.7,575.1L853.3,578.1L853.8,581.1L854.4,584.1L854.9,587.1L855.4,590.1L855.9,593.1L856.3,596.1L856.8,599.2L857.2,602.2L857.6,605.2L857.9,608.2L858.3,611.3L858.6,614.3L858.9,617.3L859.1,620.4L859.4,623.4L859.6,626.4L859.8,629.5L859.9,632.5L860.0,635.6L860.1,638.6L860.2,641.6L860.2,644.6L860.3,647.7L860.2,650.7L860.2,653.7L860.1,656.7L860.0,659.7L859.9,662.7L859.7,665.8L859.5,668.8L859.2,671.7L859.0,674.7L858.7,677.7L858.3,680.7L858.0,683.7L857.6,686.6L857.1,689.6L856.6,692.5L856.1,695.4L855.6,698.4L855.0,701.3L854.4,704.2L853.7,707.1L853.0,710.0L852.3,712.9L851.5,715.7L850.7,718.6L849.9,721.4L849.0,724.3L848.0,727.1L847.1,729.9L846.1,732.7L845.0,735.5L843.9,738.2L842.8,741.0L841.6,743.7L840.5,746.5L839.2,749.2L838.0,751.9L836.7,754.6L835.3,757.2L833.9,759.9L832.5,762.5L831.1,765.1L829.6,767.7L828.1,770.3L826.6,772.9L825.0,775.4L823.4,777.9L821.8,780.4L820.1,782.9L818.4,785.4L816.7,787.9L815.0,790.3L813.2,792.7L811.4,795.1L809.6,797.5L807.7,799.8L805.8,802.1L803.9,804.5L802.0,806.7L800.0,809.0L798.0,811.2L796.0,813.5L794.0,815.7L791.9,817.8L789.8,820.0L787.7,822.1L785.6,824.2L783.4,826.3L781.3,828.3L779.1,830.4L776.9,832.4L774.6,834.3L772.4,836.3L770.1,838.2L767.8,840.1L765.5,842.0L763.2,843.8L760.8,845.6L758.5,847.4L756.1,849.2L753.7,850.9L751.3,852.6L748.9,854.3L746.4,855.9L744.0,857.6L741.5,859.2L739.0,860.7L736.5,862.3L734.0,863.8L731.5,865.3L728.9,866.8L726.4,868.3L723.8,869.7L721.2,871.1L718.6,872.5L716.0,873.9L713.4,875.2L710.7,876.5L708.1,877.8L705.4,879.1L702.7,880.4L700.0,881.6L697.3,882.8L694.6,884.0L691.9,885.2L689.1,886.3L686.4,887.5L683.6,888.6L680.8,889.7L678.1,890.7L675.3,891.8L672.5,892.8L669.6,893.8L666.8,894.8L664.0,895.8L661.2,896.8L658.3,897.7L655.4,898.7L652.6,899.6L649.7,900.5L646.8,901.4L643.9,902.2L641.0,903.1L638.1,903.9L635.2,904.8L632.3,905.6L629.3,906.4L626.4,907.1L623.5,907.9L620.5,908.6L617.6,909.4L614.6,910.1L611.6,910.8L608.7,911.5L605.7,912.2L602.7,912.9L599.7,913.5L596.7,914.2L593.7,914.8L590.7,915.4L587.7,916.0L584.7,916.7L581.7,917.2L578.7,917.8L575.7,918.4L572.7,919.0L569.6,919.5L566.6,920.1L563.6,920.6L560.6,921.1L557.5,921.6L554.5,922.2L551.5,922.7L548.4,923.2L545.4,923.6L542.4,924.1L539.3,924.6L536.3,925.1L533.2,925.5L530.2,926.0L527.2,926.4L524.1,926.9L521.1,927.3L518.1,927.8L515.0,928.2L512.0,928.6L509.0,929.0L505.9,929.4L502.9,929.9L499.9,930.3L496.8,930.7L493.8,931.1L490.8,931.5L487.8,931.9L484.8,932.3L481.8,932.7L478.8,933.0L475.7,933.4L472.7,933.8L469.7,934.2L466.7,934.5L463.7,934.9L460.7,935.3L457.8,935.6L454.8,936.0L451.8,936.3L448.8,936.7L445.8,937.0L442.8,937.4L439.8,937.7L436.8,938.0L433.9,938.3L430.9,938.7L427.9,939.0L424.9,939.3L422.0,939.6L419.0,939.9L416.0,940.2L413.0,940.5L410.1,940.7L407.1,941.0L404.1,941.3L401.2,941.6L398.2,941.8L395.2,942.1L392.3,942.3L389.3,942.6L386.3,942.8L383.4,943.0L380.4,943.2L377.5,943.5L374.5,943.7L371.6,943.9L368.6,944.1L365.6,944.3L362.7,944.4L359.7,944.6L356.8,944.8L353.8,945.0L350.9,945.1L347.9,945.3L345.0,945.4L342.0,945.5L339.1,945.7L336.1,945.8L333.1,945.9L330.2,946.0L327.2,946.1L324.3,946.2L321.3,946.3L318.4,946.3L315.4,946.4L312.5,946.4L309.5,946.5L306.6,946.5L303.6,946.6L300.7,946.6L297.7,946.6L294.8,946.6L291.8,946.6L288.8,946.6L285.9,946.6L282.9,946.5L280.0,946.5L277.0,946.4L274.1,946.4L271.1,946.3L268.1,946.2L265.2,946.2L262.2,946.1L259.3,946.0L256.3,945.8L253.3,945.7L250.4,945.6L247.4,945.4L244.4,945.3L241.4,945.1L238.5,944.9L235.5,944.8L232.5,944.6L229.6,944.3L226.6,944.1L223.6,943.9L220.6,943.7L217.6,943.4L214.7,943.2L211.7,942.9L208.7,942.6L205.7,942.3L202.7,942.0L199.7,941.7L196.7,941.4L193.7,941.0L190.7,940.7L187.7,940.3L184.7,939.9L181.7,939.6L178.7,939.2L175.7,938.7L172.7,938.3L169.7,937.9L166.7,937.4L163.7,937.0L160.6,936.5L157.6,936.0L154.6,935.5L151.6,935.0L148.5,934.5L145.5,934.0L142.5,933.4L139.4,932.9L136.4,932.3L133.3,931.7L130.3,931.1L127.3,930.5L124.2,929.9L121.2,929.2L118.1,928.6L115.0,927.9L112.0,927.2L108.9,926.6" fill="none" stroke="#516cdb" stroke-width="3.2" stroke-linecap="butt"/>
<path d="M110.0,158.0C113.3,153.3 126.7,134.7 130.0,130.0" fill="none" stroke="#779af6" stroke-width="3.1" stroke-linecap="butt"/>
<path d="M192.5,43.0C197.1,37.9 214.9,18.3 220.0,12.5C225.1,6.7 222.5,8.8 223.0,8.0" fill="none" stroke="#779af6" stroke-width="3.1" stroke-linecap="butt"/>
<path d="M647.1,10.3L649.6,12.0L652.0,13.8L654.5,15.5L656.9,17.3L659.4,19.0L661.8,20.8L664.2,22.6L666.6,24.4L669.1,26.2L671.5,28.0L673.9,29.8L676.3,31.6L678.7,33.4L681.1,35.2L683.5,37.1L685.8,38.9L688.2,40.8L690.6,42.6L692.9,44.5L695.3,46.4L697.6,48.3L700.0,50.1L702.3,52.0L704.7,53.9L707.0,55.9L709.3,57.8L711.6,59.7L713.9,61.6L716.2,63.6L718.5,65.5L720.8,67.5L723.1,69.4L725.4,71.4L727.6,73.4L729.9,75.4L732.2,77.4L734.4,79.4L736.7,81.4L738.9,83.4L741.1,85.4L743.4,87.4L745.6,89.4L747.8,91.5L750.0,93.5L752.2,95.6L754.4,97.6L756.6,99.7L758.8,101.8L760.9,103.9L763.1,106.0L765.2,108.0L767.4,110.1L769.5,112.3L771.7,114.4L773.8,116.5L775.9,118.6L778.1,120.7L780.2,122.9L782.3,125.0L784.4,127.2L786.5,129.3L788.6,131.5L790.6,133.7L792.7,135.9L794.8,138.1L796.8,140.2L798.9,142.4L800.9,144.6L803.0,146.9L805.0,149.1L807.0,151.3L809.0,153.5L811.0,155.8L813.0,158.0L815.0,160.3L817.0,162.5L819.0,164.8L821.0,167.0L822.9,169.3L824.9,171.6L826.8,173.9L828.8,176.2L830.7,178.5L832.6,180.8L834.5,183.1L836.5,185.4L838.4,187.7L840.3,190.1L842.1,192.4L844.0,194.7L845.9,197.1L847.8,199.4L849.6,201.8L851.5,204.2L853.3,206.5L855.1,208.9L857.0,211.3L858.8,213.7L860.6,216.1L862.4,218.5L864.2,220.9L866.0,223.3L867.8,225.7L869.5,228.1L871.3,230.5L873.1,233.0L874.8,235.4L876.5,237.9L878.3,240.3L880.0,242.8L881.7,245.2L883.4,247.7L885.1,250.2L886.8,252.6L888.5,255.1L890.2,257.6L891.8,260.1L893.5,262.6L895.1,265.1L896.8,267.6L898.4,270.1L900.0,272.6L901.7,275.2L903.3,277.7L904.9,280.2L906.5,282.8L908.0,285.3L909.6,287.9L911.2,290.4L912.7,293.0L914.3,295.5L915.8,298.1L917.4,300.7L918.9,303.3L920.4,305.9L921.9,308.5L923.4,311.0L924.9,313.6L926.4,316.3L927.8,318.9L929.3,321.5L930.7,324.1L932.2,326.7L933.6,329.4L935.0,332.0L936.5,334.6L937.9,337.3L939.3,339.9L940.6,342.6L942.0,345.2L943.4,347.9L944.8,350.6L946.1,353.2L947.5,355.9L948.8,358.6L950.1,361.3L951.4,364.0L952.7,366.7L954.0,369.4L955.3,372.1L956.6,374.8L957.9,377.5L959.1,380.2L960.4,382.9L961.6,385.7L962.9,388.4L964.1,391.1L965.3,393.9L966.5,396.6L967.7,399.4L968.9,402.1L970.1,404.9L971.2,407.6L972.4,410.4L973.5,413.2L974.7,415.9L975.8,418.7L976.9,421.5L978.0,424.3L979.1,427.1L980.2,429.9L981.3,432.7L982.3,435.5L983.4,438.3L984.4,441.1L985.5,443.9L986.5,446.7L987.5,449.5L988.5,452.4L989.5,455.2L990.5,458.0L991.5,460.9L992.5,463.7L993.4,466.6L994.4,469.4L995.3,472.3L996.2,475.1L997.2,478.0L998.1,480.8L999.0,483.7L999.8,486.6L1000.7,489.4L1001.6,492.3L1002.4,495.2L1003.3,498.1L1004.1,501.0L1005.0,503.9L1005.8,506.8L1006.6,509.7L1007.4,512.6L1008.1,515.5L1008.9,518.4L1009.7,521.3L1010.4,524.2L1011.2,527.1L1011.9,530.0L1012.6,533.0L1013.3,535.9L1014.0,538.8L1014.7,541.8L1015.4,544.7L1016.1,547.7L1016.7,550.6L1017.4,553.5L1018.0,556.5L1018.6,559.5L1019.2,562.4L1019.8,565.4L1020.4,568.3L1021.0,571.3L1021.5,574.3L1022.1,577.2L1022.6,580.2L1023.1,583.2L1023.7,586.2L1024.2,589.1L1024.6,592.1L1025.1,595.1L1025.6,598.1L1026.0,601.1L1026.5,604.1L1026.9,607.1L1027.3,610.1L1027.7,613.1L1028.1,616.1L1028.4,619.1L1028.8,622.1L1029.1,625.1L1029.5,628.1L1029.8,631.1L1030.1,634.1L1030.4,637.1L1030.6,640.1L1030.9,643.1L1031.1,646.1L1031.3,649.2L1031.5,652.2L1031.7,655.2L1031.9,658.2L1032.1,661.2L1032.2,664.3L1032.4,667.3L1032.5,670.3L1032.6,673.3L1032.7,676.4L1032.7,679.4L1032.8,682.4L1032.8,685.4L1032.8,688.5L1032.9,691.5L1032.8,694.5L1032.8,697.6L1032.8,700.6L1032.7,703.6L1032.6,706.7L1032.5,709.7L1032.4,712.7L1032.3,715.7L1032.1,718.8L1032.0,721.8L1031.8,724.8L1031.6,727.9L1031.3,730.9L1031.1,733.9L1030.8,737.0L1030.6,740.0L1030.3,743.0L1030.0,746.0L1029.6,749.1L1029.3,752.1L1028.9,755.1L1028.5,758.1L1028.1,761.1L1027.6,764.1L1027.2,767.1L1026.7,770.1L1026.2,773.1L1025.7,776.1L1025.1,779.1L1024.6,782.0L1024.0,785.0L1023.3,788.0L1022.7,790.9L1022.0,793.9L1021.4,796.8L1020.6,799.7L1019.9,802.6L1019.1,805.5L1018.4,808.4L1017.6,811.3L1016.7,814.2L1015.8,817.0L1015.0,819.9L1014.0,822.7L1013.1,825.5L1012.1,828.4L1011.1,831.2L1010.1,833.9L1009.1,836.7L1008.0,839.5L1006.9,842.2L1005.7,844.9L1004.6,847.6L1003.4,850.3L1002.1,853.0L1000.9,855.7L999.6,858.3L998.3,860.9L996.9,863.5L995.5,866.1L994.1,868.7L992.7,871.2L991.2,873.7L989.7,876.3L988.2,878.7L986.6,881.2L985.0,883.7L983.4,886.1L981.8,888.5L980.1,890.9L978.4,893.3L976.6,895.6L974.9,898.0L973.1,900.3L971.3,902.6L969.4,904.8L967.6,907.1L965.7,909.3L963.7,911.5L961.8,913.7L959.8,915.9L957.8,918.0L955.8,920.2L953.7,922.3L951.7,924.4L949.6,926.4L947.5,928.5L945.3,930.5L943.1,932.5L941.0,934.5L938.7,936.4L936.5,938.3L934.2,940.3L932.0,942.1L929.7,944.0L927.3,945.9L925.0,947.7L922.6,949.5L920.2,951.3L917.8,953.0L915.4,954.8L913.0,956.5L910.5,958.2L908.0,959.8L905.5,961.5L903.0,963.1L900.5,964.7L897.9,966.3L895.3,967.8L892.7,969.3L890.1,970.8L887.5,972.3L884.9,973.8L882.2,975.2L879.5,976.6L876.8,978.0L874.1,979.4L871.4,980.7L868.7,982.0L865.9,983.3L863.2,984.6L860.4,985.8L857.6,987.0L854.8,988.2L852.0,989.4L849.1,990.5L846.3,991.6L843.4,992.7L840.6,993.8L837.7,994.8L834.8,995.9L831.9,996.9L829.0,997.9L826.1,998.8L823.2,999.8L820.2,1000.7L817.3,1001.6L814.4,1002.5L811.4,1003.4L808.4,1004.2L805.5,1005.1L802.5,1005.9L799.5,1006.7L796.6,1007.5L793.6,1008.2L790.6,1009.0L787.6,1009.7L784.6,1010.4L781.6,1011.1L778.6,1011.8L775.6,1012.5L772.6,1013.1L769.6,1013.8L766.6,1014.4L763.6,1015.0L760.6,1015.6L757.6,1016.2L754.5,1016.8L751.5,1017.3L748.5,1017.9L745.5,1018.4L742.6,1018.9L739.6,1019.5L736.6,1020.0L733.6,1020.5L730.6,1021.0L727.6,1021.4L724.7,1021.9L721.7,1022.4L718.7,1022.8L715.8,1023.3L712.8,1023.7L709.9,1024.1L707.0,1024.5L704.1,1025.0L701.2,1025.4L698.3,1025.8L695.4,1026.2L692.5,1026.6L689.6,1027.0L686.7,1027.3L683.9,1027.7L681.1,1028.1L678.2,1028.5L675.4,1028.8L672.6,1029.2" fill="none" stroke="#779af6" stroke-width="3.1" stroke-linecap="butt"/>
<path d="M568.8,1043.5L565.8,1043.7L562.8,1043.9L559.8,1044.1L556.8,1044.3L553.8,1044.5L550.8,1044.7L547.8,1044.9L544.8,1045.1L541.9,1045.3L538.9,1045.4L535.9,1045.6L532.9,1045.8L529.9,1046.0L526.9,1046.2L523.9,1046.4L520.9,1046.6L517.9,1046.8L514.9,1047.0L511.9,1047.2L508.9,1047.4L505.9,1047.6L502.9,1047.7L499.9,1047.9L497.0,1048.1L494.0,1048.3L491.0,1048.5L488.0,1048.7L485.0,1048.8L482.0,1049.0L479.0,1049.2L476.0,1049.4L473.0,1049.6L470.0,1049.7L467.0,1049.9L464.0,1050.1L461.0,1050.2L458.0,1050.4L455.0,1050.6L452.0,1050.8L449.0,1050.9L446.0,1051.1L443.0,1051.2L440.0,1051.4L437.0,1051.6L434.0,1051.7L431.0,1051.9L428.0,1052.0L425.0,1052.2L422.0,1052.4L419.0,1052.5L416.0,1052.7L413.0,1052.8L410.0,1052.9L407.0,1053.1L404.0,1053.2L401.0,1053.4L398.0,1053.5L395.0,1053.7L392.0,1053.8L389.0,1053.9L386.0,1054.1L383.0,1054.2L380.1,1054.3L377.1,1054.4L374.1,1054.6L371.1,1054.7L368.1,1054.8L365.1,1054.9L362.1,1055.0L359.1,1055.2L356.1,1055.3L353.1,1055.4L350.1,1055.5L347.1,1055.6L344.1,1055.7L341.1,1055.8L338.0,1055.9L335.0,1056.0L332.0,1056.1L329.0,1056.2L326.0,1056.3L323.0,1056.4L320.0,1056.4L317.0,1056.5L314.0,1056.6L311.0,1056.7L308.0,1056.8L305.0,1056.8L302.0,1056.9L299.0,1057.0L296.0,1057.0L293.0,1057.1L290.0,1057.2L287.0,1057.2L284.0,1057.3L281.0,1057.3L278.0,1057.4L275.0,1057.4L272.0,1057.5L269.0,1057.5L266.0,1057.5L263.0,1057.6L260.0,1057.6L257.0,1057.6L254.0,1057.7L251.0,1057.7L248.0,1057.7L245.0,1057.7L242.0,1057.8L239.0,1057.8L236.0,1057.8L233.0,1057.8L230.0,1057.8L227.0,1057.8L224.0,1057.8L221.0,1057.8L218.0,1057.8L215.0,1057.8L212.0,1057.7L209.0,1057.7L206.0,1057.7L203.0,1057.7L200.0,1057.6L197.0,1057.6L194.0,1057.6L191.0,1057.5L188.0,1057.5L185.0,1057.4L182.0,1057.4L179.0,1057.3L176.0,1057.3L173.0,1057.2L170.0,1057.2L167.0,1057.1L164.0,1057.0L161.0,1057.0L158.0,1056.9L155.0,1056.8L152.0,1056.7L149.0,1056.6L146.0,1056.5L143.0,1056.4L140.0,1056.3L137.0,1056.2L134.0,1056.1L131.0,1056.0L128.0,1055.9L125.0,1055.8L122.0,1055.6L119.0,1055.5L116.0,1055.4L113.0,1055.2L110.0,1055.1" fill="none" stroke="#779af6" stroke-width="3.1" stroke-linecap="butt"/>
<path d="M110.0,33.0L111.8,30.4L113.6,27.9L115.5,25.4L117.3,22.9L119.2,20.4L121.0,17.9L122.7,15.3L124.4,12.7L126.0,10.0" fill="none" stroke="#a0bffe" stroke-width="3.1" stroke-linecap="butt"/>
<path d="M816.3,10.3L818.6,12.3L820.8,14.3L823.0,16.4L825.2,18.4L827.5,20.5L829.7,22.5L831.9,24.6L834.1,26.7L836.2,28.8L838.4,30.8L840.6,32.9L842.7,35.0L844.9,37.2L847.0,39.3L849.2,41.4L851.3,43.5L853.4,45.7L855.5,47.8L857.7,50.0L859.8,52.1L861.8,54.3L863.9,56.5L866.0,58.6L868.1,60.8L870.1,63.0L872.2,65.2L874.2,67.4L876.3,69.6L878.3,71.9L880.3,74.1L882.3,76.3L884.4,78.6L886.4,80.8L888.3,83.1L890.3,85.3L892.3,87.6L894.3,89.9L896.2,92.1L898.2,94.4L900.1,96.7L902.1,99.0L904.0,101.3L905.9,103.6L907.8,105.9L909.7,108.3L911.6,110.6L913.5,112.9L915.4,115.3L917.3,117.6L919.2,120.0L921.0,122.3L922.9,124.7L924.7,127.1L926.5,129.5L928.4,131.8L930.2,134.2L932.0,136.6L933.8,139.0L935.6,141.4L937.4,143.8L939.2,146.3L940.9,148.7L942.7,151.1L944.5,153.6L946.2,156.0L947.9,158.4L949.7,160.9L951.4,163.4L953.1,165.8L954.8,168.3L956.5,170.8L958.2,173.2L959.9,175.7L961.6,178.2L963.2,180.7L964.9,183.2L966.5,185.7L968.2,188.2L969.8,190.8L971.4,193.3L973.0,195.8L974.7,198.3L976.3,200.9L977.8,203.4L979.4,206.0L981.0,208.5L982.6,211.1L984.1,213.7L985.7,216.2L987.2,218.8L988.8,221.4L990.3,224.0L991.8,226.5L993.3,229.1L994.8,231.7L996.3,234.3L997.8,236.9L999.2,239.6L1000.7,242.2L1002.2,244.8L1003.6,247.4L1005.1,250.1L1006.5,252.7L1007.9,255.3L1009.3,258.0L1010.7,260.6L1012.1,263.3L1013.5,265.9L1014.9,268.6L1016.3,271.3L1017.7,273.9L1019.0,276.6L1020.4,279.3L1021.7,282.0L1023.0,284.7L1024.3,287.3L1025.7,290.0L1027.0,292.7L1028.3,295.4L1029.5,298.2L1030.8,300.9L1032.1,303.6L1033.4,306.3L1034.6,309.0L1035.9,311.8L1037.1,314.5L1038.3,317.2L1039.5,320.0L1040.7,322.7L1041.9,325.5L1043.1,328.2L1044.3,331.0L1045.5,333.7L1046.7,336.5L1047.8,339.2L1049.0,342.0L1050.1,344.8L1051.2,347.6L1052.4,350.3L1053.5,353.1L1054.6,355.9L1055.7,358.7L1056.8,361.5L1057.8,364.3L1058.9,367.1L1060.0,369.9L1061.0,372.7L1062.1,375.5L1063.1,378.3L1064.1,381.2L1065.1,384.0L1066.1,386.8L1067.1,389.6L1068.1,392.4L1069.1,395.3L1070.1,398.1L1071.0,401.0L1072.0,403.8L1072.9,406.6L1073.9,409.5L1074.8,412.3L1075.7,415.2L1076.6,418.0L1077.5,420.9L1078.4,423.8L1079.3,426.6L1080.1,429.5L1081.0,432.4L1081.9,435.2L1082.7,438.1L1083.5,441.0L1084.4,443.9L1085.2,446.8L1086.0,449.6L1086.8,452.5L1087.6,455.4L1088.3,458.3L1089.1,461.2L1089.9,464.1L1090.6,467.0L1091.4,469.9L1092.1,472.8L1092.8,475.7L1093.5,478.6L1094.2,481.5L1094.9,484.4L1095.6,487.4L1096.3,490.3L1097.0,493.2L1097.6,496.1L1098.3,499.0L1098.9,502.0L1099.6,504.9L1100.2,507.8L1100.8,510.7L1101.4,513.7L1102.0,516.6L1102.6,519.5L1103.1,522.5L1103.7,525.4L1104.3,528.4L1104.8,531.3L1105.3,534.3L1105.9,537.2L1106.4,540.1L1106.9,543.1L1107.4,546.0L1107.9,549.0L1108.4,552.0L1108.8,554.9L1109.3,557.9L1109.7,560.8L1110.2,563.8L1110.6,566.7L1111.0,569.7L1111.5,572.7L1111.9,575.6L1112.3,578.6L1112.6,581.6L1113.0,584.5L1113.4,587.5L1113.7,590.5L1114.1,593.5L1114.4,596.4L1114.7,599.4L1115.1,602.4L1115.4,605.4L1115.7,608.4L1116.0,611.3L1116.2,614.3L1116.5,617.3L1116.8,620.3L1117.0,623.3L1117.3,626.3L1117.5,629.2L1117.7,632.2L1117.9,635.2L1118.1,638.2L1118.3,641.2L1118.5,644.2L1118.7,647.2L1118.9,650.2L1119.0,653.2L1119.2,656.2L1119.3,659.2L1119.4,662.2L1119.6,665.2L1119.7,668.2L1119.8,671.2L1119.9,674.2L1120.0,677.2L1120.0,680.2L1120.1,683.2L1120.1,686.2L1120.2,689.3L1120.2,692.3L1120.3,695.3L1120.3,698.3L1120.3,701.3L1120.3,704.3L1120.3,707.3L1120.3,710.4L1120.2,713.4L1120.2,716.4L1120.1,719.4L1120.1,722.4L1120.0,725.5L1119.9,728.5L1119.9,731.5L1119.8,734.5L1119.7,737.6L1119.6,740.6L1119.4,743.6L1119.3,746.6L1119.2,749.7L1119.0,752.7L1118.9,755.7L1118.7,758.7L1118.5,761.8L1118.3,764.8L1118.1,767.8L1117.9,770.9L1117.7,773.9L1117.5,776.9L1117.3,780.0L1117.0,783.0L1116.8,786.1L1116.5,789.1L1116.3,792.1L1116.0,795.2L1115.7,798.2L1115.4,801.3L1115.1,804.3L1114.8,807.3L1114.5,810.4L1114.1,813.4L1113.8,816.4L1113.4,819.5L1113.0,822.5L1112.7,825.6L1112.3,828.6L1111.8,831.6L1111.4,834.6L1111.0,837.7L1110.5,840.7L1110.1,843.7L1109.6,846.7L1109.1,849.7L1108.5,852.7L1108.0,855.7L1107.4,858.6L1106.9,861.6L1106.3,864.6L1105.6,867.5L1105.0,870.5L1104.3,873.4L1103.7,876.3L1102.9,879.2L1102.2,882.1L1101.5,885.0L1100.7,887.9L1099.9,890.8L1099.1,893.7L1098.2,896.5L1097.3,899.3L1096.4,902.2L1095.5,905.0L1094.6,907.8L1093.6,910.6L1092.6,913.3L1091.5,916.1L1090.4,918.8L1089.3,921.5L1088.2,924.2L1087.0,926.9L1085.8,929.6L1084.6,932.2L1083.4,934.8L1082.1,937.5L1080.7,940.0L1079.4,942.6L1078.0,945.2L1076.5,947.7L1075.1,950.2L1073.6,952.7L1072.0,955.2L1070.4,957.6L1068.8,960.0L1067.2,962.4L1065.5,964.8L1063.8,967.2L1062.0,969.5L1060.2,971.8L1058.4,974.1L1056.5,976.4L1054.6,978.6L1052.7,980.9L1050.8,983.1L1048.8,985.2L1046.8,987.4L1044.7,989.5L1042.6,991.6L1040.5,993.7L1038.4,995.8L1036.2,997.8L1034.0,999.8L1031.8,1001.8L1029.6,1003.8L1027.3,1005.8L1025.0,1007.7L1022.7,1009.6L1020.3,1011.5L1018.0,1013.3L1015.6,1015.2L1013.2,1017.0L1010.7,1018.8L1008.3,1020.5L1005.8,1022.3L1003.3,1024.0L1000.8,1025.7L998.2,1027.4L995.7,1029.0L993.1,1030.7L990.5,1032.3L987.9,1033.8L985.3,1035.4L982.6,1036.9L980.0,1038.4L977.3,1039.9L974.6,1041.4L971.9,1042.8L969.2,1044.3L966.5,1045.6L963.7,1047.0L961.0,1048.4L958.2,1049.7L955.4,1051.0L952.6,1052.3L949.8,1053.5L947.0,1054.7L944.2,1055.9L941.4,1057.1L938.5,1058.3L935.7,1059.4L932.9,1060.5L930.0,1061.6L927.2,1062.7L924.3,1063.7L921.4,1064.7L918.6,1065.7L915.7,1066.7L912.8,1067.6L909.9,1068.5L907.0,1069.4L904.1,1070.3L901.3,1071.1L898.4,1072.0L895.5,1072.8L892.6,1073.6L889.7,1074.3L886.8,1075.1L883.8,1075.8L880.9,1076.5L878.0,1077.2L875.1,1077.9L872.2,1078.5L869.3,1079.2L866.3,1079.8L863.4,1080.4L860.5,1081.0L857.6,1081.6L854.6,1082.2L851.7,1082.8L848.8,1083.3L845.8,1083.8L842.9,1084.4L839.9,1084.9L837.0,1085.4L834.1,1085.9L831.1,1086.4L828.2,1086.8L825.2,1087.3L822.3,1087.7L819.3,1088.2L816.4,1088.6L813.4,1089.1L810.5,1089.5L807.5,1089.9L804.6,1090.4L801.6,1090.8L798.7,1091.2L795.7,1091.6L792.7,1092.0L789.8,1092.4L786.8,1092.8L783.9,1093.2L780.9,1093.6L778.0,1094.0L775.0,1094.4L772.0,1094.8L769.1,1095.2L766.1,1095.6L763.2,1096.0L760.2,1096.4" fill="none" stroke="#a0bffe" stroke-width="3.1" stroke-linecap="butt"/>
<path d="M655.0,1106.1L652.0,1106.3L649.0,1106.6L646.0,1106.8L643.0,1107.0L640.0,1107.3L637.0,1107.5L634.0,1107.7L631.0,1108.0L628.0,1108.2L625.0,1108.4L622.0,1108.6L619.0,1108.9L615.9,1109.1L612.9,1109.3L609.9,1109.5L606.9,1109.7L603.9,1109.9L600.9,1110.1L597.9,1110.3L594.9,1110.5L591.9,1110.7L588.9,1110.9L585.9,1111.1L582.9,1111.3L579.9,1111.5L576.9,1111.7L573.9,1111.9L570.8,1112.0L567.8,1112.2L564.8,1112.4L561.8,1112.6L558.8,1112.7L555.8,1112.9L552.8,1113.1L549.8,1113.3L546.8,1113.4L543.8,1113.6L540.8,1113.8L537.8,1113.9L534.7,1114.1L531.7,1114.2L528.7,1114.4L525.7,1114.5L522.7,1114.7L519.7,1114.8L516.7,1115.0L513.7,1115.1L510.7,1115.3L507.7,1115.4L504.7,1115.6L501.6,1115.7L498.6,1115.8L495.6,1116.0L492.6,1116.1L489.6,1116.2L486.6,1116.4L483.6,1116.5L480.6,1116.6L477.6,1116.7L474.5,1116.8L471.5,1117.0L468.5,1117.1L465.5,1117.2L462.5,1117.3L459.5,1117.4L456.5,1117.5L453.5,1117.7L450.5,1117.8L447.4,1117.9L444.4,1118.0L441.4,1118.1L438.4,1118.2L435.4,1118.3L432.4,1118.4L429.4,1118.5L426.4,1118.6L423.4,1118.7L420.3,1118.8L417.3,1118.9L414.3,1118.9L411.3,1119.0L408.3,1119.1L405.3,1119.2L402.3,1119.3L399.3,1119.4L396.2,1119.5L393.2,1119.5L390.2,1119.6L387.2,1119.7L384.2,1119.8L381.2,1119.8L378.2,1119.9L375.2,1120.0L372.1,1120.1L369.1,1120.1L366.1,1120.2L363.1,1120.3L360.1,1120.3L357.1,1120.4L354.1,1120.5L351.1,1120.5L348.0,1120.6L345.0,1120.6L342.0,1120.7L339.0,1120.7L336.0,1120.8L333.0,1120.9L330.0,1120.9L327.0,1121.0L323.9,1121.0L320.9,1121.1L317.9,1121.1L314.9,1121.2L311.9,1121.2L308.9,1121.3L305.9,1121.3L302.8,1121.3L299.8,1121.4L296.8,1121.4L293.8,1121.5L290.8,1121.5L287.8,1121.5L284.8,1121.6L281.8,1121.6L278.7,1121.7L275.7,1121.7L272.7,1121.7L269.7,1121.8L266.7,1121.8L263.7,1121.8L260.7,1121.9L257.6,1121.9L254.6,1121.9L251.6,1121.9L248.6,1122.0L245.6,1122.0L242.6,1122.0L239.6,1122.0L236.5,1122.1L233.5,1122.1L230.5,1122.1L227.5,1122.1L224.5,1122.2L221.5,1122.2L218.5,1122.2L215.5,1122.2L212.4,1122.2L209.4,1122.3L206.4,1122.3L203.4,1122.3L200.4,1122.3L197.4,1122.3L194.4,1122.3L191.3,1122.4L188.3,1122.4L185.3,1122.4L182.3,1122.4L179.3,1122.4L176.3,1122.4L173.3,1122.4L170.3,1122.4L167.2,1122.5L164.2,1122.5L161.2,1122.5L158.2,1122.5L155.2,1122.5L152.2,1122.5L149.2,1122.5L146.2,1122.5L143.1,1122.5L140.1,1122.5L137.1,1122.5L134.1,1122.5L131.1,1122.5L128.1,1122.5L125.1,1122.6L122.1,1122.6L119.0,1122.6L116.0,1122.6L113.0,1122.6L110.0,1122.6" fill="none" stroke="#a0bffe" stroke-width="3.1" stroke-linecap="butt"/>
<path d="M925.4,9.4L927.7,11.5L929.9,13.6L932.1,15.7L934.3,17.8L936.4,19.9L938.6,22.1L940.7,24.3L942.8,26.5L944.9,28.7L946.9,30.9L949.0,33.1L951.0,35.4L953.0,37.6L955.0,39.9L956.9,42.2L958.9,44.5L960.8,46.8L962.8,49.2L964.7,51.5L966.5,53.9L968.4,56.3L970.3,58.6L972.1,61.0L974.0,63.5L975.8,65.9L977.6,68.3L979.4,70.8L981.1,73.2L982.9,75.7L984.7,78.1L986.4,80.6L988.1,83.1L989.8,85.6L991.6,88.1L993.3,90.6L994.9,93.2L996.6,95.7L998.3,98.2L999.9,100.8L1001.6,103.3L1003.2,105.9L1004.9,108.5L1006.5,111.0L1008.1,113.6L1009.7,116.2L1011.3,118.8L1012.9,121.4L1014.5,124.0L1016.1,126.6L1017.6,129.2L1019.2,131.8L1020.8,134.4L1022.3,137.0L1023.9,139.6L1025.5,142.2L1027.0,144.8L1028.5,147.4L1030.1,150.0L1031.6,152.7L1033.2,155.3L1034.7,157.9L1036.2,160.5L1037.8,163.1L1039.3,165.7L1040.8,168.3L1042.4,171.0L1043.9,173.6L1045.4,176.2L1047.0,178.8L1048.5,181.4L1050.0,184.0" fill="none" stroke="#c7d6f0" stroke-width="3.0" stroke-linecap="butt"/>
<path d="M1096.2,281.6L1097.4,284.5L1098.6,287.3L1099.8,290.2L1100.9,293.0L1102.0,295.9L1103.2,298.7L1104.3,301.6L1105.4,304.4L1106.5,307.3L1107.6,310.1L1108.7,313.0L1109.7,315.8L1110.8,318.7L1111.8,321.6L1112.9,324.4L1113.9,327.3L1114.9,330.2L1115.9,333.0L1116.9,335.9L1117.9,338.8L1118.8,341.6L1119.8,344.5L1120.8,347.4L1121.7,350.2L1122.6,353.1L1123.6,356.0L1124.5,358.9L1125.4,361.7L1126.3,364.6L1127.1,367.5L1128.0,370.4L1128.9,373.3L1129.7,376.2L1130.6,379.0L1131.4,381.9L1132.2,384.8L1133.0,387.7L1133.8,390.6L1134.6,393.5L1135.4,396.4L1136.2,399.3L1137.0,402.2L1137.7,405.1L1138.5,408.0L1139.2,410.9L1139.9,413.8L1140.7,416.7L1141.4,419.6L1142.1,422.5L1142.8,425.4L1143.5,428.3L1144.1,431.2L1144.8,434.1L1145.4,437.0L1146.1,439.9L1146.7,442.8L1147.4,445.8L1148.0,448.7L1148.6,451.6L1149.2,454.5L1149.8,457.4L1150.4,460.4L1151.0,463.3L1151.5,466.2L1152.1,469.1L1152.7,472.0L1153.2,475.0L1153.7,477.9L1154.3,480.8L1154.8,483.8L1155.3,486.7L1155.8,489.6L1156.3,492.6L1156.8,495.5L1157.3,498.4L1157.8,501.4L1158.2,504.3L1158.7,507.2L1159.1,510.2L1159.6,513.1L1160.0,516.1L1160.4,519.0L1160.8,522.0L1161.2,524.9L1161.7,527.9L1162.0,530.8L1162.4,533.8L1162.8,536.7L1163.2,539.7L1163.6,542.6L1163.9,545.6L1164.3,548.5L1164.6,551.5L1164.9,554.5L1165.3,557.4L1165.6,560.4L1165.9,563.3L1166.2,566.3L1166.5,569.3L1166.8,572.2L1167.1,575.2L1167.4,578.2L1167.6,581.1L1167.9,584.1L1168.2,587.1L1168.4,590.1L1168.7,593.0L1168.9,596.0L1169.1,599.0L1169.4,602.0L1169.6,605.0L1169.8,607.9L1170.0,610.9L1170.2,613.9L1170.4,616.9L1170.6,619.9L1170.8,622.9L1170.9,625.8L1171.1,628.8L1171.3,631.8L1171.4,634.8L1171.6,637.8L1171.7,640.8L1171.9,643.8L1172.0,646.8L1172.1,649.8L1172.2,652.8L1172.3,655.8L1172.5,658.8L1172.6,661.8L1172.6,664.8L1172.7,667.8L1172.8,670.8L1172.9,673.8L1173.0,676.8L1173.0,679.8L1173.1,682.8L1173.2,685.9L1173.2,688.9L1173.3,691.9L1173.3,694.9L1173.3,697.9L1173.4,700.9L1173.4,703.9L1173.4,707.0L1173.4,710.0L1173.4,713.0L1173.5,716.0L1173.5,719.1L1173.5,722.1L1173.4,725.1L1173.4,728.1L1173.4,731.2L1173.4,734.2L1173.4,737.2L1173.3,740.3L1173.3,743.3L1173.2,746.3L1173.2,749.4L1173.1,752.4L1173.1,755.4L1173.0,758.5L1173.0,761.5L1172.9,764.6L1172.8,767.6L1172.7,770.6L1172.6,773.7L1172.6,776.7L1172.5,779.8L1172.4,782.8L1172.2,785.9L1172.1,788.9L1172.0,791.9L1171.9,795.0L1171.7,798.0L1171.6,801.1L1171.4,804.1L1171.3,807.2L1171.1,810.2L1170.9,813.2L1170.7,816.3L1170.5,819.3L1170.3,822.3L1170.0,825.4L1169.8,828.4L1169.6,831.4L1169.3,834.4L1169.0,837.5L1168.7,840.5L1168.4,843.5L1168.1,846.5L1167.8,849.5L1167.5,852.5L1167.1,855.5L1166.7,858.5L1166.3,861.5L1165.9,864.5L1165.5,867.5L1165.1,870.5L1164.7,873.5L1164.2,876.5L1163.7,879.4L1163.2,882.4L1162.7,885.4L1162.2,888.3L1161.6,891.3L1161.1,894.2L1160.5,897.2L1159.9,900.1L1159.3,903.0L1158.6,905.9L1158.0,908.9L1157.3,911.8L1156.6,914.7L1155.9,917.6L1155.1,920.5L1154.4,923.4L1153.6,926.2L1152.8,929.1L1151.9,932.0L1151.1,934.8L1150.2,937.7L1149.3,940.5L1148.4,943.4L1147.5,946.2L1146.5,949.0L1145.5,951.8L1144.5,954.6L1143.4,957.4L1142.4,960.2L1141.3,963.0L1140.2,965.7L1139.0,968.5L1137.8,971.2L1136.6,974.0L1135.4,976.7L1134.2,979.4L1132.9,982.1L1131.6,984.8L1130.2,987.5L1128.9,990.2L1127.5,992.8L1126.1,995.4L1124.6,998.1L1123.1,1000.7L1121.6,1003.3L1120.1,1005.8L1118.6,1008.4L1117.0,1010.9L1115.4,1013.4L1113.7,1015.9L1112.1,1018.4L1110.4,1020.8L1108.6,1023.2L1106.9,1025.6L1105.1,1028.0L1103.3,1030.3L1101.5,1032.7L1099.6,1035.0L1097.7,1037.2L1095.8,1039.5L1093.8,1041.7L1091.8,1043.9L1089.8,1046.0L1087.8,1048.1L1085.7,1050.2L1083.6,1052.3L1081.5,1054.3L1079.4,1056.3L1077.2,1058.2L1075.0,1060.1L1072.7,1062.0L1070.4,1063.9L1068.1,1065.7L1065.8,1067.5L1063.5,1069.2L1061.1,1070.9L1058.7,1072.6L1056.3,1074.2L1053.8,1075.9L1051.3,1077.4L1048.8,1079.0L1046.3,1080.5L1043.8,1082.0L1041.2,1083.5L1038.6,1084.9L1036.0,1086.3L1033.4,1087.7L1030.7,1089.1L1028.1,1090.4L1025.4,1091.7L1022.7,1092.9L1019.9,1094.2L1017.2,1095.4L1014.5,1096.6L1011.7,1097.8L1008.9,1098.9L1006.1,1100.1L1003.3,1101.2L1000.5,1102.2L997.6,1103.3L994.8,1104.3L991.9,1105.3L989.1,1106.3L986.2,1107.3L983.3,1108.2L980.4,1109.2L977.5,1110.1L974.5,1111.0L971.6,1111.9L968.7,1112.7L965.7,1113.6L962.8,1114.4L959.8,1115.2L956.9,1116.0L953.9,1116.7L950.9,1117.5L948.0,1118.2L945.0,1119.0L942.0,1119.7L939.0,1120.4L936.1,1121.1L933.1,1121.8L930.1,1122.4L927.1,1123.1L924.1,1123.7L921.2,1124.3L918.2,1125.0L915.2,1125.6L912.2,1126.2L909.2,1126.7L906.3,1127.3L903.3,1127.9L900.3,1128.4L897.3,1129.0L894.4,1129.5L891.4,1130.0L888.4,1130.5L885.4,1131.0L882.5,1131.5L879.5,1132.0L876.5,1132.5L873.5,1133.0L870.6,1133.4L867.6,1133.9L864.6,1134.3L861.6,1134.8L858.7,1135.2L855.7,1135.6L852.7,1136.0L849.8,1136.4L846.8,1136.8L843.8,1137.2L840.8,1137.6L837.9,1138.0L834.9,1138.3L831.9,1138.7L828.9,1139.1L826.0,1139.4L823.0,1139.8L820.0,1140.1L817.1,1140.4L814.1,1140.8L811.1,1141.1L808.1,1141.4L805.2,1141.7L802.2,1142.0L799.2,1142.3L796.3,1142.6L793.3,1142.9L790.3,1143.2L787.3,1143.5L784.4,1143.8L781.4,1144.1L778.4,1144.3L775.4,1144.6L772.5,1144.9L769.5,1145.1L766.5,1145.4L763.5,1145.7L760.5,1145.9L757.6,1146.2L754.6,1146.4L751.6,1146.7L748.6,1146.9L745.7,1147.2L742.7,1147.4L739.7,1147.7L736.7,1147.9L733.7,1148.1L730.8,1148.4L727.8,1148.6L724.8,1148.8L721.8,1149.1L718.8,1149.3L715.8,1149.5L712.9,1149.8L709.9,1150.0L706.9,1150.2L703.9,1150.4L700.9,1150.6L697.9,1150.8L694.9,1151.0L692.0,1151.3L689.0,1151.5L686.0,1151.7L683.0,1151.9L680.0,1152.1L677.0,1152.3L674.0,1152.5L671.0,1152.7L668.1,1152.8L665.1,1153.0L662.1,1153.2L659.1,1153.4L656.1,1153.6L653.1,1153.8L650.1,1154.0L647.1,1154.1L644.1,1154.3L641.1,1154.5L638.1,1154.7L635.2,1154.8L632.2,1155.0L629.2,1155.2L626.2,1155.4L623.2,1155.5L620.2,1155.7L617.2,1155.8L614.2,1156.0L611.2,1156.2L608.2,1156.3L605.2,1156.5L602.2,1156.6L599.2,1156.8L596.2,1156.9L593.2,1157.1L590.2,1157.2L587.2,1157.4L584.2,1157.5L581.2,1157.6L578.2,1157.8L575.2,1157.9L572.2,1158.1L569.2,1158.2L566.2,1158.3L563.2,1158.5L560.3,1158.6L557.3,1158.7L554.3,1158.9L551.3,1159.0L548.3,1159.1L545.3,1159.2L542.3,1159.4L539.3,1159.5L536.3,1159.6L533.3,1159.7L530.3,1159.8L527.3,1159.9L524.2,1160.1L521.2,1160.2L518.2,1160.3L515.2,1160.4L512.2,1160.5L509.2,1160.6L506.2,1160.7L503.2,1160.8L500.2,1160.9L497.2,1161.0L494.2,1161.1L491.2,1161.2L488.2,1161.3L485.2,1161.4L482.2,1161.5L479.2,1161.6L476.2,1161.7L473.2,1161.8L470.2,1161.9L467.2,1162.0L464.2,1162.1L461.2,1162.1L458.2,1162.2L455.2,1162.3L452.2,1162.4L449.2,1162.5L446.2,1162.6L443.2,1162.6L440.2,1162.7L437.2,1162.8L434.2,1162.9L431.2,1163.0L428.2,1163.0L425.1,1163.1L422.1,1163.2L419.1,1163.3L416.1,1163.3L413.1,1163.4L410.1,1163.5L407.1,1163.5L404.1,1163.6L401.1,1163.7L398.1,1163.7L395.1,1163.8L392.1,1163.9L389.1,1163.9L386.1,1164.0L383.1,1164.1L380.1,1164.1L377.1,1164.2L374.1,1164.2L371.1,1164.3L368.1,1164.4L365.0,1164.4L362.0,1164.5L359.0,1164.5L356.0,1164.6L353.0,1164.6L350.0,1164.7L347.0,1164.7L344.0,1164.8L341.0,1164.8L338.0,1164.9L335.0,1164.9L332.0,1165.0L329.0,1165.0L326.0,1165.1L323.0,1165.1L320.0,1165.2L317.0,1165.2L314.0,1165.3L311.0,1165.3L308.0,1165.4L305.0,1165.4L302.0,1165.5L299.0,1165.5L296.0,1165.5L292.9,1165.6L289.9,1165.6L286.9,1165.7L283.9,1165.7L280.9,1165.8L277.9,1165.8L274.9,1165.8L271.9,1165.9L268.9,1165.9L265.9,1166.0L262.9,1166.0L259.9,1166.0L256.9,1166.1L253.9,1166.1L250.9,1166.1L247.9,1166.2L244.9,1166.2L241.9,1166.3L238.9,1166.3L235.9,1166.3L232.9,1166.4L229.9,1166.4L226.9,1166.4L223.9,1166.5L220.9,1166.5L217.9,1166.5L214.9,1166.6L211.9,1166.6L208.9,1166.6L205.9,1166.7L202.9,1166.7L199.9,1166.7L196.9,1166.8L193.9,1166.8L190.9,1166.8L187.9,1166.9L184.9,1166.9L181.9,1166.9L178.9,1167.0L175.9,1167.0L172.9,1167.0L169.9,1167.1L166.9,1167.1L164.0,1167.1L161.0,1167.2L158.0,1167.2L155.0,1167.2L152.0,1167.3L149.0,1167.3L146.0,1167.3L143.0,1167.4L140.0,1167.4L137.0,1167.4L134.0,1167.5L131.0,1167.5L128.0,1167.5L125.0,1167.6L122.0,1167.6L119.0,1167.7L116.1,1167.7L113.1,1167.7L110.1,1167.8" fill="none" stroke="#c7d6f0" stroke-width="3.0" stroke-linecap="butt"/>
<path d="M997.7,8.7L999.7,11.0L1001.7,13.3L1003.8,15.6L1005.8,17.9L1007.8,20.2L1009.8,22.5L1011.7,24.8L1013.7,27.2L1015.6,29.5L1017.6,31.9L1019.5,34.2L1021.4,36.6L1023.3,39.0L1025.2,41.3L1027.1,43.7L1028.9,46.1L1030.8,48.5L1032.6,50.9L1034.5,53.3L1036.3,55.7L1038.1,58.2L1039.9,60.6L1041.7,63.0L1043.4,65.5L1045.2,67.9L1046.9,70.4L1048.7,72.9L1050.4,75.3L1052.1,77.8L1053.8,80.3L1055.5,82.8L1057.2,85.3L1058.9,87.8L1060.5,90.3L1062.2,92.8L1063.8,95.4L1065.4,97.9L1067.0,100.4L1068.6,103.0L1070.2,105.5L1071.8,108.1L1073.4,110.6L1074.9,113.2L1076.5,115.8L1078.0,118.4L1079.5,121.0L1081.0,123.5L1082.5,126.1L1084.0,128.7L1085.5,131.3L1087.0,134.0L1088.4,136.6L1089.9,139.2L1091.3,141.8L1092.7,144.5L1094.1,147.1L1095.5,149.8L1096.9,152.4L1098.3,155.1L1099.7,157.7L1101.1,160.4L1102.4,163.1L1103.8,165.7L1105.1,168.4L1106.4,171.1L1107.7,173.8L1109.0,176.5L1110.3,179.2L1111.6,181.9L1112.9,184.6L1114.1,187.3L1115.4,190.1L1116.6,192.8L1117.8,195.5L1119.1,198.2L1120.3,201.0L1121.5,203.7L1122.7,206.5L1123.8,209.2L1125.0,212.0L1126.2,214.8L1127.3,217.5L1128.5,220.3L1129.6,223.1L1130.7,225.8L1131.8,228.6L1132.9,231.4L1134.0,234.2L1135.1,237.0L1136.2,239.8L1137.2,242.6L1138.3,245.4L1139.3,248.2L1140.4,251.0L1141.4,253.8L1142.4,256.7L1143.4,259.5L1144.4,262.3L1145.4,265.2L1146.4,268.0L1147.4,270.8L1148.3,273.7L1149.3,276.5L1150.2,279.4L1151.2,282.2L1152.1,285.1L1153.0,287.9L1153.9,290.8L1154.8,293.7L1155.7,296.5L1156.6,299.4L1157.5,302.3L1158.3,305.2L1159.2,308.0L1160.0,310.9L1160.9,313.8L1161.7,316.7L1162.5,319.6L1163.3,322.5L1164.1,325.4L1164.9,328.3L1165.7,331.2L1166.5,334.1L1167.3,337.0L1168.0,339.9L1168.8,342.8L1169.5,345.7L1170.3,348.7L1171.0,351.6L1171.7,354.5L1172.4,357.4L1173.1,360.4L1173.8,363.3L1174.5,366.2L1175.2,369.1L1175.9,372.1L1176.5,375.0L1177.2,378.0L1177.8,380.9L1178.5,383.8L1179.1,386.8L1179.7,389.7L1180.4,392.7L1181.0,395.6L1181.6,398.6L1182.2,401.5L1182.7,404.5L1183.3,407.4L1183.9,410.4L1184.5,413.4L1185.0,416.3L1185.6,419.3L1186.1,422.2L1186.6,425.2L1187.2,428.2L1187.7,431.1L1188.2,434.1L1188.7,437.1L1189.2,440.0L1189.7,443.0L1190.2,446.0L1190.7,449.0L1191.1,451.9L1191.6,454.9L1192.1,457.9L1192.5,460.9L1192.9,463.8L1193.4,466.8L1193.8,469.8L1194.2,472.8L1194.6,475.7L1195.0,478.7L1195.5,481.7L1195.8,484.7L1196.2,487.7L1196.6,490.7L1197.0,493.6L1197.4,496.6L1197.7,499.6L1198.1,502.6L1198.4,505.6L1198.8,508.6L1199.1,511.6L1199.4,514.6L1199.7,517.6L1200.1,520.5L1200.4,523.5L1200.7,526.5L1201.0,529.5L1201.3,532.5L1201.5,535.5L1201.8,538.5L1202.1,541.5L1202.4,544.5L1202.6,547.5L1202.9,550.5L1203.1,553.5L1203.4,556.5L1203.6,559.5L1203.8,562.5L1204.1,565.5L1204.3,568.5L1204.5,571.5L1204.7,574.5L1204.9,577.5L1205.1,580.5L1205.3,583.5L1205.5,586.5L1205.6,589.5L1205.8,592.5L1206.0,595.5L1206.1,598.5L1206.3,601.5L1206.4,604.5L1206.6,607.5L1206.7,610.6L1206.9,613.6L1207.0,616.6L1207.1,619.6L1207.2,622.6L1207.4,625.6L1207.5,628.6L1207.6,631.6L1207.7,634.6L1207.8,637.6L1207.8,640.6L1207.9,643.6L1208.0,646.7L1208.1,649.7L1208.1,652.7L1208.2,655.7L1208.3,658.7L1208.3,661.7L1208.4,664.7L1208.4,667.7L1208.4,670.7L1208.5,673.8L1208.5,676.8L1208.5,679.8L1208.6,682.8L1208.6,685.8L1208.6,688.8L1208.6,691.8L1208.6,694.8L1208.6,697.8L1208.6,700.8L1208.6,703.9L1208.6,706.9L1208.5,709.9L1208.5,712.9L1208.5,715.9L1208.4,718.9L1208.4,721.9L1208.4,724.9L1208.3,727.9L1208.3,731.0L1208.2,734.0L1208.2,737.0L1208.1,740.0L1208.0,743.0L1208.0,746.0L1207.9,749.0L1207.8,752.0L1207.7,755.0L1207.6,758.0L1207.5,761.0L1207.5,764.1L1207.4,767.1L1207.3,770.1L1207.2,773.1L1207.0,776.1L1206.9,779.1L1206.8,782.1L1206.7,785.1L1206.6,788.1L1206.4,791.1L1206.3,794.1L1206.2,797.1L1206.0,800.1L1205.9,803.1L1205.7,806.1L1205.6,809.1L1205.4,812.1L1205.2,815.1L1205.1,818.1L1204.9,821.1L1204.7,824.1L1204.5,827.1L1204.3,830.1L1204.1,833.1L1204.0,836.1L1203.7,839.1L1203.5,842.1L1203.3,845.1L1203.1,848.1L1202.9,851.1L1202.6,854.1L1202.4,857.1L1202.2,860.1L1201.9,863.1L1201.7,866.1L1201.4,869.1L1201.2,872.0L1200.9,875.0L1200.6,878.0L1200.3,881.0L1200.1,884.0L1199.8,887.0L1199.5,890.0L1199.2,893.0L1198.9,895.9L1198.5,898.9L1198.2,901.9L1197.9,904.9L1197.6,907.9L1197.2,910.9L1196.9,913.8L1196.5,916.8L1196.2,919.8L1195.8,922.8L1195.4,925.8L1195.1,928.7L1194.7,931.7L1194.3,934.7L1193.9,937.7L1193.5,940.6L1193.1,943.6L1192.7,946.6L1192.2,949.5L1191.8,952.5L1191.4,955.5L1190.9,958.4L1190.5,961.4L1190.0,964.4L1189.6,967.3L1189.1,970.3L1188.6,973.3L1188.1,976.2L1187.6,979.2L1187.1,982.1L1186.6,985.1L1186.1,988.1" fill="none" stroke="#e6d7cf" stroke-width="3.0" stroke-linecap="butt"/>
<path d="M1124.6,1095.6L1122.2,1097.7L1119.9,1099.6L1117.4,1101.6L1115.0,1103.4L1112.6,1105.3L1110.1,1107.1L1107.6,1108.9L1105.1,1110.6L1102.6,1112.3L1100.1,1114.0L1097.5,1115.6L1095.0,1117.2L1092.4,1118.7L1089.8,1120.2L1087.2,1121.7L1084.6,1123.1L1082.0,1124.6L1079.3,1125.9L1076.7,1127.3L1074.0,1128.6L1071.3,1129.9L1068.6,1131.1L1065.9,1132.4L1063.2,1133.5L1060.4,1134.7L1057.7,1135.8L1054.9,1137.0L1052.1,1138.0L1049.4,1139.1L1046.6,1140.1L1043.8,1141.1L1040.9,1142.1L1038.1,1143.0L1035.3,1144.0L1032.4,1144.9L1029.6,1145.7L1026.7,1146.6L1023.9,1147.4L1021.0,1148.3L1018.1,1149.0L1015.2,1149.8L1012.3,1150.6L1009.4,1151.3L1006.4,1152.0L1003.5,1152.7L1000.6,1153.4L997.7,1154.1L994.7,1154.7L991.8,1155.3L988.8,1155.9L985.8,1156.5L982.9,1157.1L979.9,1157.7L976.9,1158.2L973.9,1158.8L970.9,1159.3L968.0,1159.8L965.0,1160.3L962.0,1160.8L959.0,1161.3L956.0,1161.8L953.0,1162.3L949.9,1162.7L946.9,1163.2L943.9,1163.6L940.9,1164.1L937.9,1164.5L934.9,1164.9L931.9,1165.3L928.8,1165.7L925.8,1166.2L922.8,1166.6L919.8,1166.9L916.7,1167.3L913.7,1167.7L910.7,1168.1L907.7,1168.5L904.6,1168.9L901.6,1169.2L898.6,1169.6L895.6,1170.0L892.5,1170.3L889.5,1170.7L886.5,1171.0L883.5,1171.4L880.4,1171.7L877.4,1172.1L874.4,1172.5L871.4,1172.8L868.4,1173.2L865.3,1173.5L862.3,1173.9L859.3,1174.2L856.3,1174.6L853.3,1174.9L850.3,1175.3L847.3,1175.7L844.3,1176.0L841.3,1176.4L838.3,1176.8L835.3,1177.1L832.3,1177.5L829.3,1177.9L826.3,1178.3L823.3,1178.7L820.3,1179.1L817.4,1179.5L814.4,1179.9L811.4,1180.3L808.4,1180.7L805.5,1181.1L802.5,1181.5L799.6,1182.0L796.6,1182.4L793.7,1182.9L790.7,1183.3L787.8,1183.8L784.9,1184.3L781.9,1184.7L779.0,1185.2L776.1,1185.7L773.2,1186.3L770.3,1186.8" fill="none" stroke="#e6d7cf" stroke-width="3.0" stroke-linecap="butt"/>
<path d="M1057.1,9.0L1058.9,11.4L1060.7,13.8L1062.5,16.2L1064.3,18.6L1066.0,21.1L1067.8,23.5L1069.5,26.0L1071.3,28.5L1073.0,30.9L1074.7,33.4L1076.4,35.9L1078.1,38.4L1079.8,40.9L1081.5,43.4L1083.2,45.9L1084.8,48.4L1086.5,51.0L1088.1,53.5L1089.8,56.1L1091.4,58.6L1093.0,61.2L1094.6,63.7L1096.2,66.3L1097.8,68.9L1099.4,71.5L1100.9,74.1L1102.5,76.7L1104.0,79.3L1105.6,81.9L1107.1,84.5L1108.6,87.1L1110.1,89.7L1111.6,92.4L1113.1,95.0L1114.5,97.7L1116.0,100.3L1117.5,103.0L1118.9,105.6L1120.3,108.3L1121.8,111.0L1123.2,113.7L1124.6,116.4L1126.0,119.1L1127.4,121.8L1128.7,124.5L1130.1,127.2L1131.4,129.9L1132.8,132.6L1134.1,135.3L1135.4,138.0L1136.7,140.8L1138.0,143.5L1139.3,146.3L1140.6,149.0L1141.9,151.8L1143.1,154.5L1144.4,157.3L1145.6,160.0L1146.8,162.8L1148.0,165.6L1149.2,168.4L1150.4,171.2L1151.6,173.9L1152.8,176.7L1153.9,179.5L1155.1,182.3L1156.2,185.1L1157.3,187.9L1158.4,190.8L1159.5,193.6L1160.6,196.4L1161.7,199.2L1162.8,202.0L1163.8,204.9L1164.9,207.7L1165.9,210.5L1166.9,213.4L1167.9,216.2L1168.9,219.1L1169.9,221.9L1170.9,224.8L1171.9,227.6L1172.8,230.5L1173.8,233.3L1174.7,236.2L1175.6,239.1L1176.5,241.9L1177.4,244.8" fill="none" stroke="#f6bba0" stroke-width="3.0" stroke-linecap="butt"/>
<path d="M1208.6,367.6L1209.0,370.6L1209.5,373.5L1209.9,376.5L1210.3,379.5L1210.7,382.5L1211.1,385.5L1211.4,388.5L1211.8,391.5L1212.2,394.5L1212.6,397.5L1213.0,400.4L1213.4,403.4L1213.8,406.4L1214.1,409.4L1214.5,412.4L1214.9,415.4L1215.3,418.4L1215.6,421.4L1216.0,424.3L1216.4,427.3L1216.7,430.3L1217.1,433.3L1217.4,436.3L1217.8,439.3L1218.1,442.3L1218.5,445.2L1218.8,448.2L1219.2,451.2L1219.5,454.2L1219.9,457.2L1220.2,460.2L1220.5,463.2L1220.9,466.2L1221.2,469.1L1221.5,472.1L1221.8,475.1L1222.2,478.1L1222.5,481.1L1222.8,484.1L1223.1,487.1L1223.4,490.0L1223.7,493.0L1224.0,496.0L1224.3,499.0L1224.6,502.0L1224.9,505.0L1225.2,508.0L1225.5,510.9L1225.8,513.9L1226.1,516.9L1226.3,519.9L1226.6,522.9L1226.9,525.9L1227.2,528.9L1227.4,531.8L1227.7,534.8L1228.0,537.8L1228.2,540.8L1228.5,543.8L1228.7,546.8L1229.0,549.8L1229.2,552.7L1229.4,555.7L1229.7,558.7L1229.9,561.7L1230.1,564.7L1230.4,567.7L1230.6,570.7L1230.8,573.7L1231.0,576.6L1231.2,579.6L1231.4,582.6L1231.6,585.6L1231.8,588.6L1232.0,591.6L1232.2,594.6L1232.4,597.6L1232.6,600.5L1232.8,603.5L1233.0,606.5L1233.2,609.5L1233.3,612.5L1233.5,615.5L1233.7,618.5L1233.8,621.5L1234.0,624.4L1234.1,627.4L1234.3,630.4L1234.4,633.4L1234.6,636.4L1234.7,639.4L1234.8,642.4L1235.0,645.4L1235.1,648.4L1235.2,651.3L1235.3,654.3L1235.4,657.3L1235.5,660.3L1235.6,663.3L1235.7,666.3L1235.8,669.3L1235.9,672.3L1236.0,675.3L1236.1,678.3L1236.2,681.2L1236.3,684.2L1236.3,687.2L1236.4,690.2L1236.5,693.2L1236.5,696.2L1236.6,699.2L1236.6,702.2L1236.7,705.2L1236.7,708.2L1236.7,711.2L1236.8,714.2L1236.8,717.2L1236.8,720.2L1236.8,723.1L1236.8,726.1L1236.8,729.1L1236.8,732.1L1236.8,735.1L1236.8,738.1L1236.8,741.1L1236.8,744.1L1236.8,747.1L1236.8,750.1L1236.7,753.1L1236.7,756.1L1236.7,759.1L1236.6,762.1L1236.6,765.1L1236.5,768.1L1236.4,771.1L1236.4,774.1L1236.3,777.1L1236.2,780.1L1236.1,783.1L1236.1,786.1L1236.0,789.1L1235.9,792.1L1235.8,795.1L1235.7,798.1L1235.6,801.1L1235.4,804.1L1235.3,807.1L1235.2,810.1L1235.1,813.1L1234.9,816.1L1234.8,819.1L1234.6,822.1L1234.5,825.1L1234.3,828.1L1234.2,831.1L1234.0,834.1L1233.8,837.1L1233.6,840.1L1233.4,843.1L1233.3,846.2L1233.1,849.2L1232.9,852.2L1232.6,855.2L1232.4,858.2L1232.2,861.2L1232.0,864.2L1231.8,867.2L1231.5,870.2L1231.3,873.2L1231.0,876.2L1230.8,879.3L1230.5,882.3L1230.2,885.3L1230.0,888.3L1229.7,891.3L1229.4,894.3L1229.1,897.3L1228.8,900.3L1228.5,903.4L1228.2,906.4L1227.9,909.4L1227.6,912.4L1227.3,915.4L1226.9,918.4L1226.6,921.4L1226.3,924.5L1225.9,927.5L1225.6,930.5L1225.2,933.5L1224.8,936.5L1224.5,939.6L1224.1,942.6L1223.7,945.6L1223.3,948.6L1222.9,951.6L1222.5,954.7L1222.1,957.7L1221.6,960.7L1221.2,963.7L1220.7,966.7L1220.3,969.7L1219.8,972.7L1219.3,975.7L1218.8,978.7L1218.3,981.7L1217.8,984.7L1217.2,987.6L1216.7,990.6L1216.1,993.6L1215.5,996.5L1214.9,999.5L1214.2,1002.4L1213.6,1005.4L1212.9,1008.3L1212.2,1011.2L1211.5,1014.1L1210.8,1017.0L1210.1,1019.9L1209.3,1022.7L1208.5,1025.6L1207.7,1028.5L1206.8,1031.3L1206.0,1034.1L1205.1,1036.9L1204.2,1039.7L1203.2,1042.5L1202.3,1045.3L1201.3,1048.1L1200.2,1050.8L1199.2,1053.5L1198.1,1056.2L1197.0,1058.9L1195.9,1061.6L1194.7,1064.3L1193.5,1066.9L1192.3,1069.6L1191.0,1072.2L1189.7,1074.8L1188.4,1077.3L1187.0,1079.9L1185.6,1082.4L1184.2,1084.9L1182.7,1087.4L1181.2,1089.9L1179.7,1092.4L1178.1,1094.8L1176.5,1097.2L1174.8,1099.6L1173.1,1101.9L1171.4,1104.3L1169.6,1106.6L1167.8,1108.9L1165.9,1111.1L1164.0,1113.4L1162.1,1115.6L1160.1,1117.8L1158.0,1120.0L1156.0,1122.1L1153.8,1124.2L1151.7,1126.3L1149.5,1128.3L1147.2,1130.4L1144.9,1132.4L1142.6,1134.3L1140.2,1136.3L1137.8,1138.2L1135.4,1140.0L1132.9,1141.9L1130.4,1143.7L1127.9,1145.5L1125.3,1147.2L1122.7,1149.0L1120.1,1150.6L1117.4,1152.3L1114.8,1153.9L1112.1,1155.5L1109.3,1157.1L1106.6,1158.6L1103.8,1160.1L1101.1,1161.5L1098.3,1162.9L1095.5,1164.3L1092.6,1165.6L1089.8,1166.9L1087.0,1168.2L1084.1,1169.4L1081.2,1170.6L1078.4,1171.8L1075.5,1172.9L1072.6,1173.9L1069.7,1175.0L1066.8,1176.0L1063.9,1176.9L1061.1,1177.8L1058.2,1178.7L1055.3,1179.5L1052.4,1180.3L1049.5,1181.0L1046.7,1181.7L1043.8,1182.4L1041.0,1183.0L1038.2,1183.6L1035.3,1184.1L1032.5,1184.5L1029.7,1185.0" fill="none" stroke="#f6bba0" stroke-width="3.0" stroke-linecap="butt"/>
<path d="M1100.9,9.1L1102.5,11.6L1104.1,14.2L1105.7,16.7L1107.3,19.3L1108.9,21.8L1110.5,24.4L1112.1,26.9L1113.7,29.5L1115.3,32.0L1116.9,34.6L1118.4,37.2L1120.0,39.7L1121.6,42.3L1123.1,44.9L1124.7,47.5L1126.3,50.1L1127.8,52.7L1129.3,55.3L1130.9,57.9L1132.4,60.5L1133.9,63.1L1135.4,65.7L1136.9,68.3L1138.4,70.9L1139.9,73.5L1141.4,76.2L1142.9,78.8L1144.3,81.4L1145.8,84.1L1147.3,86.7L1148.7,89.4L1150.1,92.0L1151.6,94.7L1153.0,97.3L1154.4,100.0L1155.8,102.7L1157.2,105.3L1158.5,108.0L1159.9,110.7L1161.2,113.4L1162.6,116.1L1163.9,118.8L1165.2,121.5L1166.5,124.2L1167.8,126.9L1169.1,129.6L1170.4,132.3L1171.7,135.1L1172.9,137.8L1174.1,140.6L1175.4,143.3L1176.6,146.0L1177.8,148.8L1179.0,151.6L1180.1,154.3L1181.3,157.1L1182.4,159.9L1183.5,162.7L1184.7,165.5L1185.7,168.3L1186.8,171.1L1187.9,173.9L1188.9,176.7L1190.0,179.5L1191.0,182.3L1192.0,185.1L1193.0,188.0L1194.0,190.8L1194.9,193.7L1195.9,196.5L1196.8,199.4L1197.7,202.3L1198.6,205.1L1199.4,208.0L1200.3,210.9L1201.1,213.8L1201.9,216.7L1202.7,219.6L1203.5,222.5L1204.3,225.5L1205.0,228.4L1205.7,231.3L1206.4,234.3L1207.1,237.2L1207.8,240.2L1208.4,243.1L1209.0,246.1L1209.6,249.1L1210.2,252.1L1210.8,255.1L1211.3,258.1L1211.8,261.1L1212.3,264.1L1212.8,267.1" fill="none" stroke="#f29173" stroke-width="3.0" stroke-linecap="butt"/>
<path d="M1234.8,391.2L1235.1,394.2L1235.4,397.2L1235.6,400.2L1235.9,403.2L1236.2,406.2L1236.5,409.2L1236.8,412.2L1237.0,415.2L1237.3,418.2L1237.6,421.2L1237.9,424.2L1238.2,427.2L1238.4,430.2L1238.7,433.2L1239.0,436.2L1239.3,439.2L1239.5,442.2L1239.8,445.2L1240.1,448.2L1240.3,451.2L1240.6,454.2L1240.9,457.2L1241.1,460.2L1241.4,463.2L1241.7,466.2L1241.9,469.2L1242.2,472.2L1242.4,475.2L1242.7,478.2L1242.9,481.1L1243.2,484.1L1243.4,487.1L1243.7,490.1L1243.9,493.1L1244.2,496.1L1244.4,499.1L1244.7,502.1L1244.9,505.1L1245.2,508.1L1245.4,511.1L1245.6,514.1L1245.9,517.1L1246.1,520.1L1246.3,523.1L1246.5,526.1L1246.8,529.0L1247.0,532.0L1247.2,535.0L1247.4,538.0L1247.7,541.0L1247.9,544.0L1248.1,547.0L1248.3,550.0L1248.5,553.0L1248.7,556.0L1248.9,559.0L1249.1,562.0L1249.3,564.9L1249.5,567.9L1249.7,570.9L1249.9,573.9L1250.1,576.9L1250.3,579.9L1250.5,582.9L1250.7,585.9L1250.9,588.9L1251.0,591.9L1251.2,594.9L1251.4,597.9L1251.6,600.8L1251.7,603.8L1251.9,606.8L1252.1,609.8L1252.2,612.8L1252.4,615.8L1252.5,618.8L1252.7,621.8L1252.8,624.8L1253.0,627.8L1253.1,630.8L1253.3,633.8L1253.4,636.7L1253.6,639.7L1253.7,642.7L1253.8,645.7L1253.9,648.7L1254.1,651.7L1254.2,654.7L1254.3,657.7L1254.4,660.7L1254.5,663.7L1254.6,666.7L1254.7,669.7L1254.8,672.6L1254.9,675.6L1255.0,678.6L1255.1,681.6L1255.2,684.6L1255.3,687.6L1255.4,690.6L1255.5,693.6L1255.5,696.6L1255.6,699.6L1255.7,702.6L1255.7,705.6L1255.8,708.6L1255.9,711.6L1255.9,714.6L1256.0,717.5L1256.0,720.5L1256.1,723.5L1256.1,726.5L1256.1,729.5L1256.2,732.5L1256.2,735.5L1256.2,738.5L1256.2,741.5L1256.3,744.5L1256.3,747.5L1256.3,750.5L1256.3,753.5L1256.3,756.5L1256.3,759.5L1256.3,762.5L1256.3,765.5L1256.2,768.5L1256.2,771.5L1256.2,774.5L1256.2,777.5L1256.1,780.5L1256.1,783.5L1256.0,786.5L1256.0,789.5L1256.0,792.5L1255.9,795.5L1255.8,798.5L1255.8,801.5L1255.7,804.5L1255.6,807.5L1255.6,810.5L1255.5,813.5L1255.4,816.5L1255.3,819.5L1255.2,822.5L1255.1,825.5L1255.0,828.5L1254.9,831.5L1254.8,834.5L1254.7,837.5L1254.5,840.5L1254.4,843.5L1254.3,846.5L1254.1,849.5L1254.0,852.5L1253.8,855.5L1253.7,858.5L1253.5,861.5L1253.4,864.5L1253.2,867.5L1253.0,870.6L1252.9,873.6L1252.7,876.6L1252.5,879.6L1252.3,882.6L1252.1,885.6L1251.9,888.6L1251.7,891.6L1251.5,894.6L1251.2,897.6L1251.0,900.6L1250.8,903.7L1250.6,906.7L1250.3,909.7L1250.1,912.7L1249.8,915.7L1249.6,918.7L1249.3,921.7L1249.0,924.8L1248.8,927.8L1248.5,930.8L1248.2,933.8L1247.9,936.8L1247.6,939.8L1247.3,942.9L1247.0,945.9L1246.7,948.9L1246.4,951.9L1246.0,954.9L1245.7,957.9L1245.4,961.0L1245.0,964.0L1244.7,967.0L1244.3,970.0L1243.9,973.0L1243.5,976.0L1243.1,979.0L1242.7,982.1L1242.3,985.1L1241.9,988.1L1241.5,991.1L1241.0,994.0L1240.5,997.0L1240.1,1000.0L1239.6,1003.0L1239.1,1006.0L1238.5,1008.9L1238.0,1011.9L1237.4,1014.8L1236.9,1017.8L1236.3,1020.7L1235.7,1023.7L1235.0,1026.6L1234.4,1029.5L1233.7,1032.4L1233.0,1035.3L1232.3,1038.2L1231.6,1041.1L1230.8,1044.0L1230.0,1046.8L1229.2,1049.7L1228.4,1052.5L1227.6,1055.3L1226.7,1058.1L1225.8,1061.0L1224.9,1063.7L1223.9,1066.5L1223.0,1069.3L1222.0,1072.0L1220.9,1074.8L1219.9,1077.5L1218.8,1080.2L1217.7,1082.9L1216.5,1085.6L1215.4,1088.3L1214.2,1090.9L1212.9,1093.6L1211.6,1096.2L1210.3,1098.8L1209.0,1101.4L1207.6,1103.9L1206.2,1106.5L1204.8,1109.0L1203.3,1111.5L1201.8,1114.0L1200.3,1116.5L1198.7,1119.0L1197.1,1121.4L1195.4,1123.8L1193.7,1126.2L1192.0,1128.6L1190.2,1131.0L1188.4,1133.3L1186.6,1135.6L1184.7,1137.9L1182.8,1140.2L1180.8,1142.4L1178.8,1144.6L1176.7,1146.8L1174.7,1149.0L1172.5,1151.2L1170.4,1153.3L1168.2,1155.4L1165.9,1157.4L1163.7,1159.5L1161.3,1161.5L1159.0,1163.5L1156.6,1165.5L1154.1,1167.4L1151.6,1169.3L1149.1,1171.2L1146.5,1173.0L1143.9,1174.9L1141.2,1176.6L1138.5,1178.4L1135.8,1180.1L1133.0,1181.8L1130.2,1183.5L1127.3,1185.1L1124.4,1186.7" fill="none" stroke="#f29173" stroke-width="3.0" stroke-linecap="butt"/>
<path d="M1135.9,9.0L1137.7,11.5L1139.4,14.0L1141.1,16.5L1142.8,19.1L1144.5,21.6L1146.2,24.1L1147.8,26.7L1149.5,29.3L1151.1,31.8L1152.7,34.4L1154.2,37.0L1155.8,39.6L1157.3,42.2L1158.9,44.8L1160.4,47.5L1161.9,50.1L1163.3,52.8L1164.8,55.4L1166.2,58.1L1167.7,60.8L1169.1,63.4L1170.5,66.1L1171.9,68.8L1173.2,71.5L1174.6,74.3L1175.9,77.0L1177.2,79.7L1178.5,82.4L1179.8,85.2L1181.1,87.9L1182.4,90.7L1183.6,93.5L1184.8,96.2L1186.1,99.0L1187.3,101.8L1188.5,104.6L1189.6,107.4L1190.8,110.2L1192.0,113.0L1193.1,115.8L1194.2,118.6L1195.4,121.4L1196.5,124.2L1197.6,127.1L1198.7,129.9L1199.7,132.8L1200.8,135.6L1201.8,138.5L1202.9,141.3L1203.9,144.2L1204.9,147.0" fill="none" stroke="#da5a48" stroke-width="3.1" stroke-linecap="butt"/>
<path d="M1236.0,269.0L1236.8,271.9L1237.7,274.9L1238.5,277.8L1239.2,280.7L1240.0,283.7L1240.7,286.6L1241.4,289.6L1242.1,292.5L1242.8,295.5L1243.4,298.5L1244.0,301.4L1244.6,304.4L1245.2,307.4L1245.8,310.4L1246.3,313.3L1246.8,316.3L1247.3,319.3L1247.8,322.3L1248.3,325.3L1248.7,328.3L1249.1,331.3L1249.6,334.3L1250.0,337.3L1250.4,340.3L1250.7,343.3L1251.1,346.3L1251.4,349.3L1251.8,352.3L1252.1,355.4L1252.4,358.4L1252.7,361.4L1253.0,364.4L1253.3,367.4L1253.6,370.5L1253.9,373.5L1254.1,376.5L1254.4,379.5L1254.6,382.5L1254.9,385.6L1255.1,388.6L1255.4,391.6L1255.6,394.6L1255.8,397.7L1256.0,400.7L1256.3,403.7L1256.5,406.8L1256.7,409.8L1256.9,412.8L1257.1,415.8L1257.3,418.9L1257.6,421.9L1257.8,424.9L1258.0,427.9L1258.2,430.9L1258.4,434.0L1258.7,437.0L1258.9,440.0" fill="none" stroke="#da5a48" stroke-width="3.1" stroke-linecap="butt"/>
<path d="M1259.0,1000.0C1258.5,1002.8 1257.7,1008.3 1256.0,1017.0C1254.3,1025.7 1250.2,1046.2 1249.0,1052.0" fill="none" stroke="#da5a48" stroke-width="3.1" stroke-linecap="butt"/>
<path d="M1201.0,1164.0C1197.8,1167.3 1185.5,1180.2 1182.0,1184.0C1178.5,1187.8 1180.3,1186.5 1180.0,1187.0" fill="none" stroke="#da5a48" stroke-width="3.1" stroke-linecap="butt"/>
<path d="M1166.0,9.0L1167.7,11.6L1169.3,14.2L1170.9,16.8L1172.5,19.4L1174.1,22.1L1175.6,24.7L1177.1,27.4L1178.6,30.1L1180.1,32.7L1181.6,35.4L1183.0,38.2L1184.4,40.9L1185.8,43.6L1187.2,46.4L1188.6,49.1L1189.9,51.9L1191.2,54.6L1192.5,57.4L1193.8,60.2L1195.1,63.0L1196.3,65.8L1197.5,68.6L1198.8,71.4L1200.0,74.3L1201.1,77.1L1202.3,80.0L1203.4,82.8L1204.6,85.7L1205.7,88.5L1206.8,91.4L1207.9,94.2L1208.9,97.1L1210.0,100.0" fill="none" stroke="#b30326" stroke-width="3.1" stroke-linecap="butt"/>
<path d="M1244.0,220.0C1245.8,230.0 1252.7,267.5 1255.0,280.0C1257.3,292.5 1257.5,292.5 1258.0,295.0" fill="none" stroke="#b30326" stroke-width="3.1" stroke-linecap="butt"/>
<path d="M1259.1,1090.1L1258.2,1092.9L1257.2,1095.7L1256.3,1098.6L1255.3,1101.4L1254.4,1104.3L1253.4,1107.2L1252.4,1110.0L1251.4,1112.9L1250.5,1115.7L1249.4,1118.6L1248.4,1121.4L1247.4,1124.3L1246.3,1127.1L1245.2,1129.9L1244.1,1132.8L1243.0,1135.6L1241.8,1138.3L1240.6,1141.1L1239.4,1143.9L1238.1,1146.6L1236.8,1149.3L1235.5,1152.0L1234.1,1154.7L1232.7,1157.4L1231.3,1160.0L1229.7,1162.6L1228.2,1165.2L1226.6,1167.7L1224.9,1170.2L1223.2,1172.7L1221.5,1175.2L1219.7,1177.6L1217.8,1180.0L1215.9,1182.3L1213.9,1184.6L1211.8,1186.9" fill="none" stroke="#b30326" stroke-width="3.1" stroke-linecap="butt"/>
<line x1="111.0" y1="1185.5" x2="1257.8" y2="10.5" stroke="#000" stroke-width="3.9"/>
</g>
<text x="0" y="0" transform="translate(157.5,85.0) rotate(-54.0)" font-size="22.5" fill="#779af6" stroke="#779af6" stroke-width="0.8" text-anchor="middle" dominant-baseline="central">7.000</text>
<text x="0" y="0" transform="translate(739.7,328.0) rotate(51.0)" font-size="22.5" fill="#516cdb" stroke="#516cdb" stroke-width="0.8" text-anchor="middle" dominant-baseline="central">6.000</text>
<text x="0" y="0" transform="translate(181.0,530.0) rotate(-68.7)" font-size="22.5" fill="#3a4cc0" stroke="#3a4cc0" stroke-width="0.8" text-anchor="middle" dominant-baseline="central">5.351</text>
<text x="0" y="0" transform="translate(373.6,838.4) rotate(-2.8)" font-size="22.5" fill="#3f53c6" stroke="#3f53c6" stroke-width="0.8" text-anchor="middle" dominant-baseline="central">5.500</text>
<text x="0" y="0" transform="translate(620.6,1037.0) rotate(-6.0)" font-size="22.5" fill="#779af6" stroke="#779af6" stroke-width="0.8" text-anchor="middle" dominant-baseline="central">7.000</text>
<text x="0" y="0" transform="translate(707.5,1100.5) rotate(-5.0)" font-size="22.5" fill="#a0bffe" stroke="#a0bffe" stroke-width="0.8" text-anchor="middle" dominant-baseline="central">8.000</text>
<text x="0" y="0" transform="translate(1079.5,229.5) rotate(59.0)" font-size="22.5" fill="#c7d6f0" stroke="#c7d6f0" stroke-width="0.8" text-anchor="middle" dominant-baseline="central">9.000</text>
<text x="0" y="0" transform="translate(1163.0,1047.0) rotate(-58.0)" font-size="22.5" fill="#e6d7cf" stroke="#e6d7cf" stroke-width="0.8" text-anchor="middle" dominant-baseline="central">10.000</text>
<text x="0" y="0" transform="translate(1198.5,305.0) rotate(76.3)" font-size="22.5" fill="#f6bba0" stroke="#f6bba0" stroke-width="0.8" text-anchor="middle" dominant-baseline="central">11.000</text>
<text x="0" y="0" transform="translate(1229.0,329.0) rotate(80.1)" font-size="22.5" fill="#f29173" stroke="#f29173" stroke-width="0.8" text-anchor="middle" dominant-baseline="central">12.000</text>
<text x="0" y="0" transform="translate(1226.0,205.0) rotate(75.7)" font-size="22.5" fill="#da5a48" stroke="#da5a48" stroke-width="0.8" text-anchor="middle" dominant-baseline="central">13.000</text>
<text x="0" y="0" transform="translate(1233.0,157.0) rotate(74.2)" font-size="22.5" fill="#b30326" stroke="#b30326" stroke-width="0.8" text-anchor="middle" dominant-baseline="central">14.000</text>
<text x="0" y="0" transform="translate(1232.3,1111.0) rotate(-66.8)" font-size="22.5" fill="#da5a48" stroke="#da5a48" stroke-width="0.8" text-anchor="middle" dominant-baseline="central">13.000</text>
<circle cx="368.75" cy="583.75" r="8" fill="#4a7bb7"/>
<rect x="111.0" y="11.7" width="1146.8" height="1173.2" fill="none" stroke="#222" stroke-width="4.2"/>
<line x1="111.0" y1="1186.9" x2="111.0" y2="1197.9" stroke="#333" stroke-width="1.6"/>
<line x1="109.0" y1="1184.9" x2="98.0" y2="1184.9" stroke="#333" stroke-width="1.6"/>
<line x1="302.1" y1="1186.9" x2="302.1" y2="1197.9" stroke="#333" stroke-width="1.6"/>
<line x1="109.0" y1="989.4" x2="98.0" y2="989.4" stroke="#333" stroke-width="1.6"/>
<line x1="493.3" y1="1186.9" x2="493.3" y2="1197.9" stroke="#333" stroke-width="1.6"/>
<line x1="109.0" y1="793.8" x2="98.0" y2="793.8" stroke="#333" stroke-width="1.6"/>
<line x1="684.4" y1="1186.9" x2="684.4" y2="1197.9" stroke="#333" stroke-width="1.6"/>
<line x1="109.0" y1="598.3" x2="98.0" y2="598.3" stroke="#333" stroke-width="1.6"/>
<line x1="875.5" y1="1186.9" x2="875.5" y2="1197.9" stroke="#333" stroke-width="1.6"/>
<line x1="109.0" y1="402.8" x2="98.0" y2="402.8" stroke="#333" stroke-width="1.6"/>
<line x1="1066.7" y1="1186.9" x2="1066.7" y2="1197.9" stroke="#333" stroke-width="1.6"/>
<line x1="109.0" y1="207.2" x2="98.0" y2="207.2" stroke="#333" stroke-width="1.6"/>
<line x1="1257.8" y1="1186.9" x2="1257.8" y2="1197.9" stroke="#333" stroke-width="1.6"/>
<line x1="109.0" y1="11.7" x2="98.0" y2="11.7" stroke="#333" stroke-width="1.6"/>
<text transform="translate(110.2,1218.3) scale(0.935,1)" font-size="37" font-weight="bold" fill="#222" text-anchor="middle">0.1</text>
<text transform="translate(103.0,1198.3) scale(0.935,1)" font-size="37" font-weight="bold" fill="#222" text-anchor="end">0.1</text>
<text transform="translate(301.3,1218.3) scale(0.935,1)" font-size="37" font-weight="bold" fill="#222" text-anchor="middle">0.2</text>
<text transform="translate(103.0,1002.8) scale(0.935,1)" font-size="37" font-weight="bold" fill="#222" text-anchor="end">0.2</text>
<text transform="translate(492.5,1218.3) scale(0.935,1)" font-size="37" font-weight="bold" fill="#222" text-anchor="middle">0.3</text>
<text transform="translate(103.0,807.2) scale(0.935,1)" font-size="37" font-weight="bold" fill="#222" text-anchor="end">0.3</text>
<text transform="translate(683.6,1218.3) scale(0.935,1)" font-size="37" font-weight="bold" fill="#222" text-anchor="middle">0.4</text>
<text transform="translate(103.0,611.7) scale(0.935,1)" font-size="37" font-weight="bold" fill="#222" text-anchor="end">0.4</text>
<text transform="translate(874.7,1218.3) scale(0.935,1)" font-size="37" font-weight="bold" fill="#222" text-anchor="middle">0.5</text>
<text transform="translate(103.0,416.2) scale(0.935,1)" font-size="37" font-weight="bold" fill="#222" text-anchor="end">0.5</text>
<text transform="translate(1065.9,1218.3) scale(0.935,1)" font-size="37" font-weight="bold" fill="#222" text-anchor="middle">0.6</text>
<text transform="translate(103.0,220.6) scale(0.935,1)" font-size="37" font-weight="bold" fill="#222" text-anchor="end">0.6</text>
<text transform="translate(1257.0,1218.3) scale(0.935,1)" font-size="37" font-weight="bold" fill="#222" text-anchor="middle">0.7</text>
<text transform="translate(103.0,25.1) scale(0.935,1)" font-size="37" font-weight="bold" fill="#222" text-anchor="end">0.7</text>
<text x="685.2" y="1267" font-size="46.3" font-weight="bold" fill="#2a2a2a" text-anchor="middle">Porosity in Layer 2</text>
<text transform="translate(36.2,601.3) rotate(-90)" x="0" y="0" font-size="45.5" font-weight="bold" fill="#2a2a2a" text-anchor="middle">Porosity in Layer 1</text>
</svg></body></html>
